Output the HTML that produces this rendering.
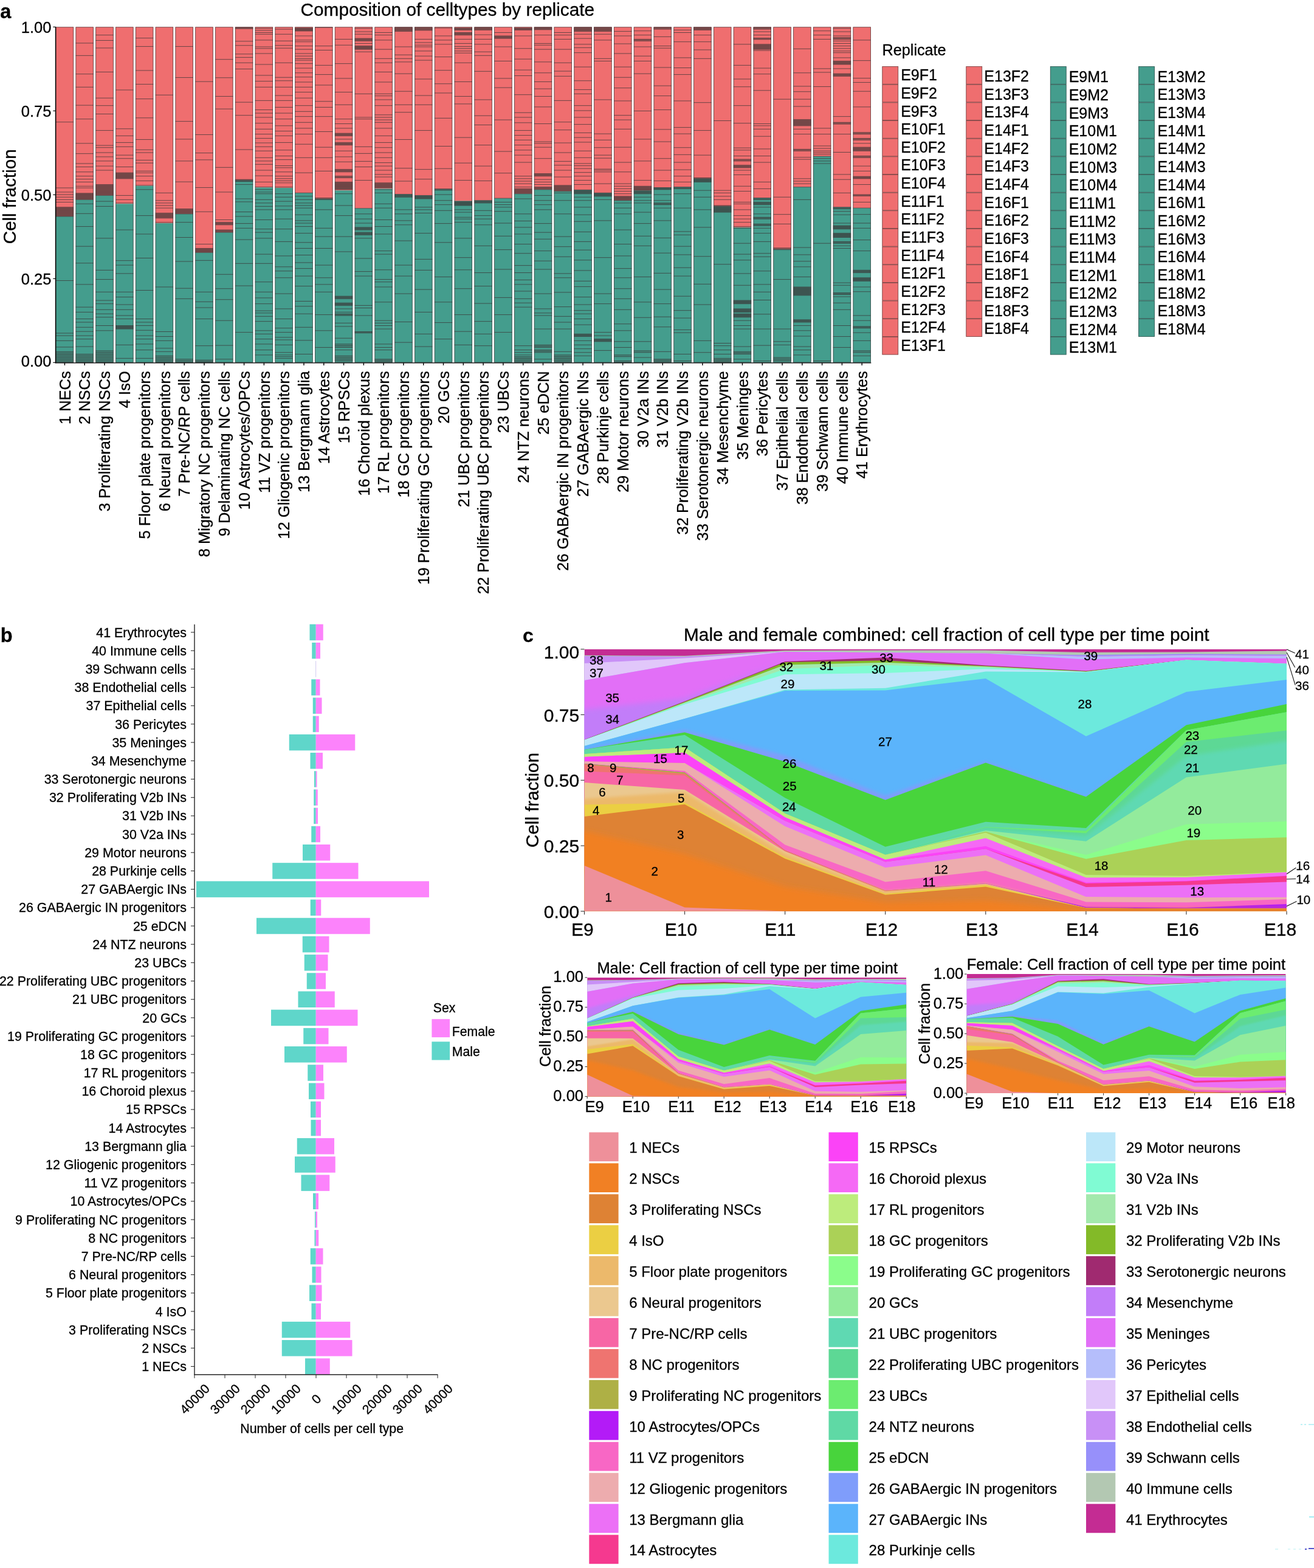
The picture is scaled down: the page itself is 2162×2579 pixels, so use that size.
<!DOCTYPE html>
<html lang="en">
<head>
<meta charset="utf-8">
<title>Cell type composition by replicate, sex and time point</title>
<style>
html,body{margin:0;padding:0;background:#fff;}
body{width:2162px;height:2579px;overflow:hidden;}
svg{display:block;}
svg text{font-family:"Liberation Sans",sans-serif;fill:#000;stroke:#000;stroke-width:0.3px;}
</style>
</head>
<body>
<svg width="2162" height="2579" viewBox="0 0 2162 2579">
<rect width="2162" height="2579" fill="#fff"/>
<g id="panel-a">
<text x="0.30" y="29.80" font-size="32.5" font-weight="bold">a</text>
<text x="736.30" y="26.00" font-size="29.8" text-anchor="middle">Composition of celltypes by replicate</text>
<text x="26.30" y="323.30" font-size="29.5" text-anchor="middle" transform="rotate(-90 26.30 323.30)">Cell fraction</text>
<line x1="87.30" y1="44.40" x2="91.50" y2="44.40" stroke="#111" stroke-width="1.2"/>
<text x="84.40" y="53.90" font-size="25.5" text-anchor="end">1.00</text>
<line x1="87.30" y1="182.38" x2="91.50" y2="182.38" stroke="#111" stroke-width="1.2"/>
<text x="84.40" y="191.88" font-size="25.5" text-anchor="end">0.75</text>
<line x1="87.30" y1="320.35" x2="91.50" y2="320.35" stroke="#111" stroke-width="1.2"/>
<text x="84.40" y="329.85" font-size="25.5" text-anchor="end">0.50</text>
<line x1="87.30" y1="458.32" x2="91.50" y2="458.32" stroke="#111" stroke-width="1.2"/>
<text x="84.40" y="467.82" font-size="25.5" text-anchor="end">0.25</text>
<line x1="87.30" y1="596.30" x2="91.50" y2="596.30" stroke="#111" stroke-width="1.2"/>
<text x="84.40" y="602.90" font-size="25.5" text-anchor="end">0.00</text>
<g transform="translate(91.75 0)">
<rect x="0.00" y="44.40" width="29.35" height="311.58" fill="#EF6E6F"/>
<rect x="0.00" y="355.98" width="29.35" height="240.32" fill="#449D8D"/>
<rect x="0.00" y="340.79" width="29.35" height="15.19" fill="#3a3536" fill-opacity="0.5"/>
<rect x="0.00" y="578.35" width="29.35" height="17.95" fill="#3a3536" fill-opacity="0.2"/>
<path d="M0 200.74H29.35M0 309.02H29.35M0 315.93H29.35M0 320.07H29.35M0 324.22H29.35M0 328.36H29.35M0 332.50H29.35M0 340.79H29.35M0 342.69H29.35M0 344.59H29.35M0 346.49H29.35M0 348.39H29.35M0 350.29H29.35M0 352.19H29.35M0 354.08H29.35M0 355.98H29.35M0 461.50H29.35M0 547.96H29.35M0 552.10H29.35M0 560.39H29.35M0 570.89H29.35M0 578.35H29.35M0 580.91H29.35M0 583.48H29.35M0 586.04H29.35M0 588.61H29.35M0 591.17H29.35M0 593.74H29.35M0 596.30H29.35" stroke="#3a3536" stroke-width="1" stroke-opacity="0.72" fill="none"/>
<rect x="0.35" y="44.75" width="28.65" height="551.20" fill="none" stroke="#3a3536" stroke-width="0.8" stroke-opacity="0.8"/>
</g>
<line x1="106.42" y1="596.80" x2="106.42" y2="600.90" stroke="#111" stroke-width="1.5"/>
<text x="115.62" y="610.20" font-size="25.5" text-anchor="end" transform="rotate(-90 115.62 610.20)">1 NECs</text>
<g transform="translate(124.55 0)">
<rect x="0.00" y="44.40" width="29.35" height="283.96" fill="#EF6E6F"/>
<rect x="0.00" y="328.36" width="29.35" height="267.94" fill="#449D8D"/>
<rect x="0.00" y="317.86" width="29.35" height="10.50" fill="#3a3536" fill-opacity="0.5"/>
<rect x="0.00" y="582.49" width="29.35" height="13.81" fill="#3a3536" fill-opacity="0.2"/>
<path d="M0 70.92H29.35M0 91.36H29.35M0 121.74H29.35M0 143.29H29.35M0 173.12H29.35M0 195.77H29.35M0 235.82H29.35M0 252.67H29.35M0 268.97H29.35M0 274.50H29.35M0 282.78H29.35M0 289.69H29.35M0 294.66H29.35M0 299.36H29.35M0 306.26H29.35M0 309.02H29.35M0 317.86H29.35M0 319.61H29.35M0 321.36H29.35M0 323.11H29.35M0 324.86H29.35M0 326.61H29.35M0 328.36H29.35M0 335.27H29.35M0 351.29H29.35M0 372.56H29.35M0 405.15H29.35M0 432.77H29.35M0 467.85H29.35M0 505.15H29.35M0 513.43H29.35M0 524.48H29.35M0 530.01H29.35M0 538.29H29.35M0 545.20H29.35M0 552.10H29.35M0 557.63H29.35M0 570.06H29.35M0 582.49H29.35M0 585.25H29.35M0 588.01H29.35M0 590.78H29.35M0 593.54H29.35M0 596.30H29.35" stroke="#3a3536" stroke-width="1" stroke-opacity="0.72" fill="none"/>
<rect x="0.35" y="44.75" width="28.65" height="551.20" fill="none" stroke="#3a3536" stroke-width="0.8" stroke-opacity="0.8"/>
</g>
<line x1="139.22" y1="596.80" x2="139.22" y2="600.90" stroke="#111" stroke-width="1.5"/>
<text x="148.42" y="610.20" font-size="25.5" text-anchor="end" transform="rotate(-90 148.42 610.20)">2 NSCs</text>
<g transform="translate(157.34 0)">
<rect x="0.00" y="44.40" width="29.35" height="277.05" fill="#EF6E6F"/>
<rect x="0.00" y="321.45" width="29.35" height="274.85" fill="#449D8D"/>
<rect x="0.00" y="303.50" width="29.35" height="17.95" fill="#3a3536" fill-opacity="0.5"/>
<rect x="0.00" y="576.96" width="29.35" height="19.34" fill="#3a3536" fill-opacity="0.2"/>
<path d="M0 57.66H29.35M0 66.50H29.35M0 78.93H29.35M0 118.43H29.35M0 161.24H29.35M0 173.67H29.35M0 187.49H29.35M0 214.56H29.35M0 239.14H29.35M0 242.73H29.35M0 251.02H29.35M0 257.92H29.35M0 264.83H29.35M0 273.12H29.35M0 280.02H29.35M0 303.50H29.35M0 305.50H29.35M0 307.49H29.35M0 309.49H29.35M0 311.48H29.35M0 313.48H29.35M0 315.47H29.35M0 317.46H29.35M0 319.46H29.35M0 321.45H29.35M0 331.12H29.35M0 339.41H29.35M0 391.89H29.35M0 444.38H29.35M0 459.57H29.35M0 480.28H29.35M0 494.10H29.35M0 499.62H29.35M0 509.29H29.35M0 516.19H29.35M0 521.72H29.35M0 535.53H29.35M0 543.82H29.35M0 576.96H29.35M0 579.73H29.35M0 582.49H29.35M0 585.25H29.35M0 588.01H29.35M0 590.78H29.35M0 593.54H29.35M0 596.30H29.35" stroke="#3a3536" stroke-width="1" stroke-opacity="0.72" fill="none"/>
<rect x="0.35" y="44.75" width="28.65" height="551.20" fill="none" stroke="#3a3536" stroke-width="0.8" stroke-opacity="0.8"/>
</g>
<line x1="172.02" y1="596.80" x2="172.02" y2="600.90" stroke="#111" stroke-width="1.5"/>
<text x="181.22" y="610.20" font-size="25.5" text-anchor="end" transform="rotate(-90 181.22 610.20)">3 Proliferating NSCs</text>
<g transform="translate(190.13 0)">
<rect x="0.00" y="44.40" width="29.35" height="290.87" fill="#EF6E6F"/>
<rect x="0.00" y="335.27" width="29.35" height="261.03" fill="#449D8D"/>
<rect x="0.00" y="284.16" width="29.35" height="9.67" fill="#3a3536" fill-opacity="0.5"/>
<rect x="0.00" y="535.53" width="29.35" height="5.52" fill="#3a3536" fill-opacity="0.5"/>
<path d="M0 147.98H29.35M0 211.79H29.35M0 223.39H29.35M0 234.44H29.35M0 241.35H29.35M0 255.16H29.35M0 260.69H29.35M0 274.50H29.35M0 284.16H29.35M0 286.10H29.35M0 288.03H29.35M0 289.97H29.35M0 291.90H29.35M0 293.83H29.35M0 321.45H29.35M0 328.36H29.35M0 333.89H29.35M0 378.08H29.35M0 428.63H29.35M0 436.09H29.35M0 449.90H29.35M0 480.28H29.35M0 488.57H29.35M0 501.00H29.35M0 509.29H29.35M0 518.96H29.35M0 524.48H29.35M0 535.53H29.35M0 537.37H29.35M0 539.21H29.35M0 541.05H29.35M0 567.30H29.35M0 589.39H29.35" stroke="#3a3536" stroke-width="1" stroke-opacity="0.72" fill="none"/>
<rect x="0.35" y="44.75" width="28.65" height="551.20" fill="none" stroke="#3a3536" stroke-width="0.8" stroke-opacity="0.8"/>
</g>
<line x1="204.81" y1="596.80" x2="204.81" y2="600.90" stroke="#111" stroke-width="1.5"/>
<text x="214.01" y="610.20" font-size="25.5" text-anchor="end" transform="rotate(-90 214.01 610.20)">4 IsO</text>
<g transform="translate(222.93 0)">
<rect x="0.00" y="44.40" width="29.35" height="261.31" fill="#EF6E6F"/>
<rect x="0.00" y="305.71" width="29.35" height="290.59" fill="#449D8D"/>
<path d="M0 62.63H29.35M0 76.44H29.35M0 115.94H29.35M0 138.59H29.35M0 162.62H29.35M0 193.84H29.35M0 229.47H29.35M0 246.32H29.35M0 251.02H29.35M0 263.45H29.35M0 268.14H29.35M0 281.40H29.35M0 284.16H29.35M0 289.69H29.35M0 297.42H29.35M0 304.88H29.35M0 311.79H29.35M0 354.60H29.35M0 384.99H29.35M0 424.49H29.35M0 477.52H29.35M0 524.48H29.35M0 530.01H29.35M0 535.53H29.35M0 543.26H29.35M0 552.10H29.35M0 557.63H29.35M0 565.92H29.35M0 575.58H29.35M0 589.39H29.35" stroke="#3a3536" stroke-width="1" stroke-opacity="0.72" fill="none"/>
<rect x="0.35" y="44.75" width="28.65" height="551.20" fill="none" stroke="#3a3536" stroke-width="0.8" stroke-opacity="0.8"/>
</g>
<line x1="237.61" y1="596.80" x2="237.61" y2="600.90" stroke="#111" stroke-width="1.5"/>
<text x="246.81" y="610.20" font-size="25.5" text-anchor="end" transform="rotate(-90 246.81 610.20)">5 Floor plate progenitors</text>
<g transform="translate(255.73 0)">
<rect x="0.00" y="44.40" width="29.35" height="322.63" fill="#EF6E6F"/>
<rect x="0.00" y="367.03" width="29.35" height="229.27" fill="#449D8D"/>
<rect x="0.00" y="350.46" width="29.35" height="8.29" fill="#3a3536" fill-opacity="0.5"/>
<rect x="0.00" y="585.25" width="29.35" height="11.05" fill="#3a3536" fill-opacity="0.2"/>
<path d="M0 156.27H29.35M0 317.31H29.35M0 329.74H29.35M0 333.89H29.35M0 338.03H29.35M0 342.17H29.35M0 350.46H29.35M0 352.53H29.35M0 354.60H29.35M0 356.67H29.35M0 358.75H29.35M0 365.65H29.35M0 472.00H29.35M0 545.47H29.35M0 553.48H29.35M0 560.39H29.35M0 572.82H29.35M0 578.35H29.35M0 585.25H29.35M0 588.01H29.35M0 590.78H29.35M0 593.54H29.35M0 596.30H29.35" stroke="#3a3536" stroke-width="1" stroke-opacity="0.72" fill="none"/>
<rect x="0.35" y="44.75" width="28.65" height="551.20" fill="none" stroke="#3a3536" stroke-width="0.8" stroke-opacity="0.8"/>
</g>
<line x1="270.40" y1="596.80" x2="270.40" y2="600.90" stroke="#111" stroke-width="1.5"/>
<text x="279.60" y="610.20" font-size="25.5" text-anchor="end" transform="rotate(-90 279.60 610.20)">6 Neural progenitors</text>
<g transform="translate(288.52 0)">
<rect x="0.00" y="44.40" width="29.35" height="307.44" fill="#EF6E6F"/>
<rect x="0.00" y="351.84" width="29.35" height="244.46" fill="#449D8D"/>
<rect x="0.00" y="343.55" width="29.35" height="8.29" fill="#3a3536" fill-opacity="0.5"/>
<rect x="0.00" y="590.78" width="29.35" height="5.52" fill="#3a3536" fill-opacity="0.2"/>
<path d="M0 76.44H29.35M0 127.54H29.35M0 199.64H29.35M0 228.92H29.35M0 264.83H29.35M0 299.08H29.35M0 343.55H29.35M0 345.62H29.35M0 347.70H29.35M0 349.77H29.35M0 351.84H29.35M0 365.65H29.35M0 390.51H29.35M0 430.01H29.35M0 474.21H29.35M0 491.33H29.35M0 590.78H29.35M0 593.54H29.35M0 596.30H29.35" stroke="#3a3536" stroke-width="1" stroke-opacity="0.72" fill="none"/>
<rect x="0.35" y="44.75" width="28.65" height="551.20" fill="none" stroke="#3a3536" stroke-width="0.8" stroke-opacity="0.8"/>
</g>
<line x1="303.19" y1="596.80" x2="303.19" y2="600.90" stroke="#111" stroke-width="1.5"/>
<text x="312.39" y="610.20" font-size="25.5" text-anchor="end" transform="rotate(-90 312.39 610.20)">7 Pre-NC/RP cells</text>
<g transform="translate(321.31 0)">
<rect x="0.00" y="44.40" width="29.35" height="370.97" fill="#EF6E6F"/>
<rect x="0.00" y="415.37" width="29.35" height="180.93" fill="#449D8D"/>
<rect x="0.00" y="408.47" width="29.35" height="6.91" fill="#3a3536" fill-opacity="0.5"/>
<rect x="0.00" y="592.16" width="29.35" height="4.14" fill="#3a3536" fill-opacity="0.2"/>
<path d="M0 134.17H29.35M0 221.46H29.35M0 251.57H29.35M0 262.89H29.35M0 308.47H29.35M0 348.25H29.35M0 401.56H29.35M0 408.47H29.35M0 410.19H29.35M0 411.92H29.35M0 413.65H29.35M0 415.37H29.35M0 428.35H29.35M0 480.28H29.35M0 496.31H29.35M0 505.97H29.35M0 524.48H29.35M0 568.68H29.35M0 592.16H29.35M0 594.23H29.35M0 596.30H29.35" stroke="#3a3536" stroke-width="1" stroke-opacity="0.72" fill="none"/>
<rect x="0.35" y="44.75" width="28.65" height="551.20" fill="none" stroke="#3a3536" stroke-width="0.8" stroke-opacity="0.8"/>
</g>
<line x1="335.99" y1="596.80" x2="335.99" y2="600.90" stroke="#111" stroke-width="1.5"/>
<text x="345.19" y="610.20" font-size="25.5" text-anchor="end" transform="rotate(-90 345.19 610.20)">8 Migratory NC progenitors</text>
<g transform="translate(354.11 0)">
<rect x="0.00" y="44.40" width="29.35" height="337.82" fill="#EF6E6F"/>
<rect x="0.00" y="382.22" width="29.35" height="214.08" fill="#449D8D"/>
<rect x="0.00" y="365.65" width="29.35" height="4.14" fill="#3a3536" fill-opacity="0.5"/>
<rect x="0.00" y="378.08" width="29.35" height="4.14" fill="#3a3536" fill-opacity="0.5"/>
<path d="M0 97.71H29.35M0 127.82H29.35M0 158.48H29.35M0 179.20H29.35M0 275.33H29.35M0 315.93H29.35M0 361.51H29.35M0 365.65H29.35M0 367.72H29.35M0 369.79H29.35M0 378.08H29.35M0 380.15H29.35M0 382.22H29.35M0 451.28H29.35M0 474.76H29.35M0 492.72H29.35M0 527.24H29.35M0 568.12H29.35M0 590.78H29.35" stroke="#3a3536" stroke-width="1" stroke-opacity="0.72" fill="none"/>
<rect x="0.35" y="44.75" width="28.65" height="551.20" fill="none" stroke="#3a3536" stroke-width="0.8" stroke-opacity="0.8"/>
</g>
<line x1="368.79" y1="596.80" x2="368.79" y2="600.90" stroke="#111" stroke-width="1.5"/>
<text x="377.99" y="610.20" font-size="25.5" text-anchor="end" transform="rotate(-90 377.99 610.20)">9 Delaminating NC cells</text>
<g transform="translate(386.91 0)">
<rect x="0.00" y="44.40" width="29.35" height="252.19" fill="#EF6E6F"/>
<rect x="0.00" y="296.59" width="29.35" height="299.71" fill="#449D8D"/>
<rect x="0.00" y="45.23" width="29.35" height="1.93" fill="#3a3536" fill-opacity="0.5"/>
<rect x="0.00" y="295.21" width="29.35" height="3.31" fill="#3a3536" fill-opacity="0.5"/>
<path d="M0 45.23H29.35M0 47.16H29.35M0 67.88H29.35M0 74.78H29.35M0 88.87H29.35M0 94.40H29.35M0 103.24H29.35M0 113.46H29.35M0 168.15H29.35M0 189.69H29.35M0 246.05H29.35M0 295.21H29.35M0 296.87H29.35M0 298.53H29.35M0 303.50H29.35M0 326.98H29.35M0 331.95H29.35M0 348.53H29.35M0 355.98H29.35M0 367.58H29.35M0 375.32H29.35M0 394.10H29.35M0 433.33H29.35M0 470.06H29.35M0 546.58H29.35" stroke="#3a3536" stroke-width="1" stroke-opacity="0.72" fill="none"/>
<rect x="0.35" y="44.75" width="28.65" height="551.20" fill="none" stroke="#3a3536" stroke-width="0.8" stroke-opacity="0.8"/>
</g>
<line x1="401.58" y1="596.80" x2="401.58" y2="600.90" stroke="#111" stroke-width="1.5"/>
<text x="410.78" y="610.20" font-size="25.5" text-anchor="end" transform="rotate(-90 410.78 610.20)">10 Astrocytes/OPCs</text>
<g transform="translate(419.70 0)">
<rect x="0.00" y="44.40" width="29.35" height="264.07" fill="#EF6E6F"/>
<rect x="0.00" y="308.47" width="29.35" height="287.83" fill="#449D8D"/>
<path d="M0 46.61H29.35M0 49.92H29.35M0 53.52H29.35M0 56.28H29.35M0 65.95H29.35M0 76.99H29.35M0 79.76H29.35M0 88.04H29.35M0 106.00H29.35M0 123.95H29.35M0 133.62H29.35M0 143.29H29.35M0 165.39H29.35M0 180.58H29.35M0 186.10H29.35M0 193.01H29.35M0 202.68H29.35M0 212.35H29.35M0 220.63H29.35M0 227.54H29.35M0 235.00H29.35M0 241.35H29.35M0 248.25H29.35M0 259.30H29.35M0 264.83H29.35M0 270.35H29.35M0 280.02H29.35M0 289.14H29.35M0 299.36H29.35M0 307.64H29.35M0 311.79H29.35M0 315.93H29.35M0 318.69H29.35M0 328.36H29.35M0 333.89H29.35M0 339.41H29.35M0 344.93H29.35M0 361.51H29.35M0 376.70H29.35M0 382.22H29.35M0 391.89H29.35M0 418.13H29.35M0 433.33H29.35M0 463.71H29.35M0 480.28H29.35M0 489.95H29.35M0 499.62H29.35M0 511.22H29.35M0 514.81H29.35M0 520.34H29.35M0 528.62H29.35M0 543.82H29.35M0 549.34H29.35M0 557.63H29.35M0 565.92H29.35M0 575.58H29.35M0 583.87H29.35" stroke="#3a3536" stroke-width="1" stroke-opacity="0.72" fill="none"/>
<rect x="0.35" y="44.75" width="28.65" height="551.20" fill="none" stroke="#3a3536" stroke-width="0.8" stroke-opacity="0.8"/>
</g>
<line x1="434.38" y1="596.80" x2="434.38" y2="600.90" stroke="#111" stroke-width="1.5"/>
<text x="443.58" y="610.20" font-size="25.5" text-anchor="end" transform="rotate(-90 443.58 610.20)">11 VZ progenitors</text>
<g transform="translate(452.50 0)">
<rect x="0.00" y="44.40" width="29.35" height="264.62" fill="#EF6E6F"/>
<rect x="0.00" y="309.02" width="29.35" height="287.28" fill="#449D8D"/>
<path d="M0 47.99H29.35M0 56.28H29.35M0 67.33H29.35M0 74.78H29.35M0 79.20H29.35M0 103.24H29.35M0 127.27H29.35M0 132.79H29.35M0 143.29H29.35M0 157.10H29.35M0 165.39H29.35M0 176.44H29.35M0 186.10H29.35M0 195.77H29.35M0 206.82H29.35M0 215.66H29.35M0 223.39H29.35M0 234.44H29.35M0 246.87H29.35M0 256.54H29.35M0 262.62H29.35M0 272.56H29.35M0 275.88H29.35M0 282.78H29.35M0 289.69H29.35M0 293.83H29.35M0 297.42H29.35M0 300.74H29.35M0 307.64H29.35M0 318.69H29.35M0 324.22H29.35M0 331.12H29.35M0 338.86H29.35M0 344.93H29.35M0 360.13H29.35M0 376.70H29.35M0 397.42H29.35M0 420.90H29.35M0 438.85H29.35M0 445.76H29.35M0 456.81H29.35M0 483.05H29.35M0 507.91H29.35M0 524.48H29.35M0 539.67H29.35M0 546.58H29.35M0 554.87H29.35M0 559.01H29.35M0 567.30H29.35M0 579.73H29.35M0 583.87H29.35M0 586.63H29.35M0 589.39H29.35" stroke="#3a3536" stroke-width="1" stroke-opacity="0.72" fill="none"/>
<rect x="0.35" y="44.75" width="28.65" height="551.20" fill="none" stroke="#3a3536" stroke-width="0.8" stroke-opacity="0.8"/>
</g>
<line x1="467.17" y1="596.80" x2="467.17" y2="600.90" stroke="#111" stroke-width="1.5"/>
<text x="476.37" y="610.20" font-size="25.5" text-anchor="end" transform="rotate(-90 476.37 610.20)">12 Gliogenic progenitors</text>
<g transform="translate(485.29 0)">
<rect x="0.00" y="44.40" width="29.35" height="272.91" fill="#EF6E6F"/>
<rect x="0.00" y="317.31" width="29.35" height="278.99" fill="#449D8D"/>
<rect x="0.00" y="46.06" width="29.35" height="4.97" fill="#3a3536" fill-opacity="0.5"/>
<path d="M0 46.06H29.35M0 47.71H29.35M0 49.37H29.35M0 51.03H29.35M0 59.04H29.35M0 65.95H29.35M0 68.71H29.35M0 75.61H29.35M0 81.14H29.35M0 88.04H29.35M0 92.19H29.35M0 96.33H29.35M0 99.09H29.35M0 104.62H29.35M0 112.08H29.35M0 119.81H29.35M0 126.72H29.35M0 135.00H29.35M0 143.29H29.35M0 151.58H29.35M0 161.24H29.35M0 173.67H29.35M0 183.34H29.35M0 191.63H29.35M0 201.30H29.35M0 210.96H29.35M0 220.63H29.35M0 237.21H29.35M0 259.30H29.35M0 284.16H29.35M0 317.31H29.35M0 322.84H29.35M0 328.36H29.35M0 333.89H29.35M0 338.03H29.35M0 342.17H29.35M0 353.22H29.35M0 362.89H29.35M0 367.03H29.35M0 372.56H29.35M0 383.61H29.35M0 398.80H29.35M0 408.47H29.35M0 419.52H29.35M0 431.95H29.35M0 441.61H29.35M0 454.04H29.35M0 470.62H29.35M0 495.48H29.35M0 503.76H29.35M0 516.19H29.35M0 538.29H29.35M0 559.84H29.35M0 582.49H29.35" stroke="#3a3536" stroke-width="1" stroke-opacity="0.72" fill="none"/>
<rect x="0.35" y="44.75" width="28.65" height="551.20" fill="none" stroke="#3a3536" stroke-width="0.8" stroke-opacity="0.8"/>
</g>
<line x1="499.97" y1="596.80" x2="499.97" y2="600.90" stroke="#111" stroke-width="1.5"/>
<text x="509.17" y="610.20" font-size="25.5" text-anchor="end" transform="rotate(-90 509.17 610.20)">13 Bergmann glia</text>
<g transform="translate(518.09 0)">
<rect x="0.00" y="44.40" width="29.35" height="282.58" fill="#EF6E6F"/>
<rect x="0.00" y="326.98" width="29.35" height="269.32" fill="#449D8D"/>
<rect x="0.00" y="325.60" width="29.35" height="2.76" fill="#3a3536" fill-opacity="0.5"/>
<path d="M0 45.23H29.35M0 75.61H29.35M0 82.52H29.35M0 107.38H29.35M0 122.57H29.35M0 139.97H29.35M0 166.77H29.35M0 176.44H29.35M0 191.63H29.35M0 216.49H29.35M0 242.18H29.35M0 259.30H29.35M0 281.40H29.35M0 325.60H29.35M0 328.36H29.35M0 344.93H29.35M0 375.32H29.35M0 389.13H29.35M0 408.47H29.35M0 436.09H29.35M0 456.81H29.35M0 467.85H29.35M0 480.28H29.35M0 517.58H29.35M0 543.82H29.35M0 571.44H29.35" stroke="#3a3536" stroke-width="1" stroke-opacity="0.72" fill="none"/>
<rect x="0.35" y="44.75" width="28.65" height="551.20" fill="none" stroke="#3a3536" stroke-width="0.8" stroke-opacity="0.8"/>
</g>
<line x1="532.76" y1="596.80" x2="532.76" y2="600.90" stroke="#111" stroke-width="1.5"/>
<text x="541.96" y="610.20" font-size="25.5" text-anchor="end" transform="rotate(-90 541.96 610.20)">14 Astrocytes</text>
<g transform="translate(550.88 0)">
<rect x="0.00" y="44.40" width="29.35" height="268.77" fill="#EF6E6F"/>
<rect x="0.00" y="313.17" width="29.35" height="283.13" fill="#449D8D"/>
<rect x="0.00" y="219.25" width="29.35" height="4.14" fill="#3a3536" fill-opacity="0.5"/>
<rect x="0.00" y="234.44" width="29.35" height="4.14" fill="#3a3536" fill-opacity="0.5"/>
<rect x="0.00" y="278.64" width="29.35" height="4.14" fill="#3a3536" fill-opacity="0.5"/>
<rect x="0.00" y="289.69" width="29.35" height="2.76" fill="#3a3536" fill-opacity="0.5"/>
<rect x="0.00" y="299.36" width="29.35" height="12.43" fill="#3a3536" fill-opacity="0.5"/>
<rect x="0.00" y="487.19" width="29.35" height="4.14" fill="#3a3536" fill-opacity="0.5"/>
<rect x="0.00" y="498.24" width="29.35" height="4.14" fill="#3a3536" fill-opacity="0.5"/>
<rect x="0.00" y="516.19" width="29.35" height="2.76" fill="#3a3536" fill-opacity="0.5"/>
<rect x="0.00" y="565.92" width="29.35" height="5.52" fill="#3a3536" fill-opacity="0.2"/>
<rect x="0.00" y="585.25" width="29.35" height="8.29" fill="#3a3536" fill-opacity="0.2"/>
<path d="M0 64.56H29.35M0 74.23H29.35M0 104.62H29.35M0 128.93H29.35M0 151.58H29.35M0 172.29H29.35M0 195.77H29.35M0 203.51H29.35M0 210.96H29.35M0 219.25H29.35M0 221.32H29.35M0 223.39H29.35M0 228.92H29.35M0 234.44H29.35M0 236.52H29.35M0 238.59H29.35M0 248.25H29.35M0 257.92H29.35M0 266.21H29.35M0 278.64H29.35M0 280.71H29.35M0 282.78H29.35M0 289.69H29.35M0 292.45H29.35M0 299.36H29.35M0 301.13H29.35M0 302.91H29.35M0 304.68H29.35M0 306.46H29.35M0 308.24H29.35M0 310.01H29.35M0 311.79H29.35M0 318.69H29.35M0 338.03H29.35M0 354.60H29.35M0 389.13H29.35M0 413.99H29.35M0 487.19H29.35M0 489.26H29.35M0 491.33H29.35M0 498.24H29.35M0 500.31H29.35M0 502.38H29.35M0 507.91H29.35M0 513.43H29.35M0 516.19H29.35M0 518.96H29.35M0 531.39H29.35M0 536.91H29.35M0 556.25H29.35M0 565.92H29.35M0 568.68H29.35M0 571.44H29.35M0 575.58H29.35M0 585.25H29.35M0 588.01H29.35M0 590.78H29.35M0 593.54H29.35" stroke="#3a3536" stroke-width="1" stroke-opacity="0.72" fill="none"/>
<rect x="0.35" y="44.75" width="28.65" height="551.20" fill="none" stroke="#3a3536" stroke-width="0.8" stroke-opacity="0.8"/>
</g>
<line x1="565.55" y1="596.80" x2="565.55" y2="600.90" stroke="#111" stroke-width="1.5"/>
<text x="574.75" y="610.20" font-size="25.5" text-anchor="end" transform="rotate(-90 574.75 610.20)">15 RPSCs</text>
<g transform="translate(583.67 0)">
<rect x="0.00" y="44.40" width="29.35" height="298.32" fill="#EF6E6F"/>
<rect x="0.00" y="342.72" width="29.35" height="253.58" fill="#449D8D"/>
<rect x="0.00" y="63.18" width="29.35" height="4.14" fill="#3a3536" fill-opacity="0.5"/>
<rect x="0.00" y="75.61" width="29.35" height="5.52" fill="#3a3536" fill-opacity="0.5"/>
<rect x="0.00" y="373.94" width="29.35" height="4.14" fill="#3a3536" fill-opacity="0.5"/>
<rect x="0.00" y="382.22" width="29.35" height="4.14" fill="#3a3536" fill-opacity="0.5"/>
<rect x="0.00" y="545.47" width="29.35" height="2.21" fill="#3a3536" fill-opacity="0.5"/>
<path d="M0 46.61H29.35M0 52.13H29.35M0 56.28H29.35M0 63.18H29.35M0 65.26H29.35M0 67.33H29.35M0 71.47H29.35M0 75.61H29.35M0 77.46H29.35M0 79.30H29.35M0 81.14H29.35M0 85.28H29.35M0 154.34H29.35M0 193.01H29.35M0 195.77H29.35M0 241.35H29.35M0 252.40H29.35M0 265.38H29.35M0 274.50H29.35M0 296.59H29.35M0 342.72H29.35M0 351.84H29.35M0 360.13H29.35M0 367.03H29.35M0 373.94H29.35M0 376.01H29.35M0 378.08H29.35M0 382.22H29.35M0 384.30H29.35M0 386.37H29.35M0 391.89H29.35M0 425.04H29.35M0 446.59H29.35M0 454.04H29.35M0 502.38H29.35M0 506.53H29.35M0 518.96H29.35M0 545.47H29.35M0 547.68H29.35" stroke="#3a3536" stroke-width="1" stroke-opacity="0.72" fill="none"/>
<rect x="0.35" y="44.75" width="28.65" height="551.20" fill="none" stroke="#3a3536" stroke-width="0.8" stroke-opacity="0.8"/>
</g>
<line x1="598.35" y1="596.80" x2="598.35" y2="600.90" stroke="#111" stroke-width="1.5"/>
<text x="607.55" y="610.20" font-size="25.5" text-anchor="end" transform="rotate(-90 607.55 610.20)">16 Choroid plexus</text>
<g transform="translate(616.47 0)">
<rect x="0.00" y="44.40" width="29.35" height="266.01" fill="#EF6E6F"/>
<rect x="0.00" y="310.41" width="29.35" height="285.89" fill="#449D8D"/>
<rect x="0.00" y="300.74" width="29.35" height="8.29" fill="#3a3536" fill-opacity="0.5"/>
<rect x="0.00" y="590.78" width="29.35" height="4.14" fill="#3a3536" fill-opacity="0.2"/>
<path d="M0 53.52H29.35M0 57.66H29.35M0 65.95H29.35M0 81.14H29.35M0 96.33H29.35M0 103.24H29.35M0 118.43H29.35M0 135.00H29.35M0 154.34H29.35M0 157.65H29.35M0 164.01H29.35M0 173.67H29.35M0 188.87H29.35M0 193.01H29.35M0 197.15H29.35M0 201.30H29.35M0 210.96H29.35M0 223.39H29.35M0 234.44H29.35M0 242.73H29.35M0 251.02H29.35M0 259.30H29.35M0 267.59H29.35M0 273.12H29.35M0 280.02H29.35M0 286.93H29.35M0 291.07H29.35M0 300.74H29.35M0 302.81H29.35M0 304.88H29.35M0 306.95H29.35M0 309.02H29.35M0 311.79H29.35M0 317.31H29.35M0 335.27H29.35M0 342.17H29.35M0 361.51H29.35M0 372.56H29.35M0 384.99H29.35M0 412.61H29.35M0 418.13H29.35M0 443.82H29.35M0 459.57H29.35M0 463.71H29.35M0 472.00H29.35M0 496.86H29.35M0 527.24H29.35M0 531.39H29.35M0 535.53H29.35M0 541.05H29.35M0 565.92H29.35M0 571.44H29.35M0 575.58H29.35M0 590.78H29.35M0 592.85H29.35M0 594.92H29.35" stroke="#3a3536" stroke-width="1" stroke-opacity="0.72" fill="none"/>
<rect x="0.35" y="44.75" width="28.65" height="551.20" fill="none" stroke="#3a3536" stroke-width="0.8" stroke-opacity="0.8"/>
</g>
<line x1="631.14" y1="596.80" x2="631.14" y2="600.90" stroke="#111" stroke-width="1.5"/>
<text x="640.35" y="610.20" font-size="25.5" text-anchor="end" transform="rotate(-90 640.35 610.20)">17 RL progenitors</text>
<g transform="translate(649.26 0)">
<rect x="0.00" y="44.40" width="29.35" height="275.12" fill="#EF6E6F"/>
<rect x="0.00" y="319.52" width="29.35" height="276.78" fill="#449D8D"/>
<rect x="0.00" y="45.23" width="29.35" height="6.35" fill="#3a3536" fill-opacity="0.5"/>
<rect x="0.00" y="319.52" width="29.35" height="4.70" fill="#3a3536" fill-opacity="0.5"/>
<path d="M0 45.23H29.35M0 47.35H29.35M0 49.46H29.35M0 51.58H29.35M0 76.99H29.35M0 90.25H29.35M0 96.33H29.35M0 101.86H29.35M0 121.19H29.35M0 150.19H29.35M0 172.29H29.35M0 184.72H29.35M0 229.47H29.35M0 276.71H29.35M0 297.98H29.35M0 319.52H29.35M0 321.87H29.35M0 324.22H29.35M0 344.93H29.35M0 351.84H29.35M0 362.89H29.35M0 369.79H29.35M0 396.04H29.35M0 436.09H29.35M0 454.04H29.35M0 483.05H29.35M0 529.45H29.35M0 563.15H29.35" stroke="#3a3536" stroke-width="1" stroke-opacity="0.72" fill="none"/>
<rect x="0.35" y="44.75" width="28.65" height="551.20" fill="none" stroke="#3a3536" stroke-width="0.8" stroke-opacity="0.8"/>
</g>
<line x1="663.94" y1="596.80" x2="663.94" y2="600.90" stroke="#111" stroke-width="1.5"/>
<text x="673.14" y="610.20" font-size="25.5" text-anchor="end" transform="rotate(-90 673.14 610.20)">18 GC progenitors</text>
<g transform="translate(682.06 0)">
<rect x="0.00" y="44.40" width="29.35" height="277.05" fill="#EF6E6F"/>
<rect x="0.00" y="321.45" width="29.35" height="274.85" fill="#449D8D"/>
<rect x="0.00" y="45.23" width="29.35" height="4.70" fill="#3a3536" fill-opacity="0.5"/>
<rect x="0.00" y="321.45" width="29.35" height="5.52" fill="#3a3536" fill-opacity="0.5"/>
<path d="M0 45.23H29.35M0 47.58H29.35M0 49.92H29.35M0 64.56H29.35M0 70.09H29.35M0 74.23H29.35M0 76.99H29.35M0 83.90H29.35M0 92.19H29.35M0 99.09H29.35M0 130.03H29.35M0 157.10H29.35M0 172.29H29.35M0 214.56H29.35M0 278.64H29.35M0 294.66H29.35M0 321.45H29.35M0 323.30H29.35M0 325.14H29.35M0 326.98H29.35M0 340.79H29.35M0 344.93H29.35M0 350.46H29.35M0 383.61H29.35M0 426.42H29.35M0 444.38H29.35M0 476.14H29.35M0 513.43H29.35M0 549.34H29.35M0 570.06H29.35" stroke="#3a3536" stroke-width="1" stroke-opacity="0.72" fill="none"/>
<rect x="0.35" y="44.75" width="28.65" height="551.20" fill="none" stroke="#3a3536" stroke-width="0.8" stroke-opacity="0.8"/>
</g>
<line x1="696.74" y1="596.80" x2="696.74" y2="600.90" stroke="#111" stroke-width="1.5"/>
<text x="705.94" y="610.20" font-size="25.5" text-anchor="end" transform="rotate(-90 705.94 610.20)">19 Proliferating GC progenitors</text>
<g transform="translate(714.86 0)">
<rect x="0.00" y="44.40" width="29.35" height="266.83" fill="#EF6E6F"/>
<rect x="0.00" y="311.23" width="29.35" height="285.07" fill="#449D8D"/>
<rect x="0.00" y="310.68" width="29.35" height="2.21" fill="#3a3536" fill-opacity="0.5"/>
<path d="M0 46.06H29.35M0 59.04H29.35M0 65.95H29.35M0 72.85H29.35M0 93.57H29.35M0 115.67H29.35M0 137.76H29.35M0 152.96H29.35M0 194.39H29.35M0 240.52H29.35M0 277.26H29.35M0 310.68H29.35M0 312.89H29.35M0 320.07H29.35M0 329.74H29.35M0 336.65H29.35M0 346.32H29.35M0 367.58H29.35M0 398.80H29.35M0 455.42H29.35M0 496.86H29.35M0 530.56H29.35M0 557.63H29.35" stroke="#3a3536" stroke-width="1" stroke-opacity="0.72" fill="none"/>
<rect x="0.35" y="44.75" width="28.65" height="551.20" fill="none" stroke="#3a3536" stroke-width="0.8" stroke-opacity="0.8"/>
</g>
<line x1="729.53" y1="596.80" x2="729.53" y2="600.90" stroke="#111" stroke-width="1.5"/>
<text x="738.73" y="610.20" font-size="25.5" text-anchor="end" transform="rotate(-90 738.73 610.20)">20 GCs</text>
<g transform="translate(747.65 0)">
<rect x="0.00" y="44.40" width="29.35" height="286.17" fill="#EF6E6F"/>
<rect x="0.00" y="330.57" width="29.35" height="265.73" fill="#449D8D"/>
<rect x="0.00" y="46.06" width="29.35" height="3.31" fill="#3a3536" fill-opacity="0.5"/>
<rect x="0.00" y="53.52" width="29.35" height="4.14" fill="#3a3536" fill-opacity="0.5"/>
<rect x="0.00" y="331.12" width="29.35" height="6.91" fill="#3a3536" fill-opacity="0.5"/>
<path d="M0 46.06H29.35M0 47.71H29.35M0 49.37H29.35M0 53.52H29.35M0 55.59H29.35M0 57.66H29.35M0 64.56H29.35M0 71.47H29.35M0 76.44H29.35M0 79.76H29.35M0 83.90H29.35M0 87.22H29.35M0 103.24H29.35M0 134.45H29.35M0 158.48H29.35M0 170.91H29.35M0 226.16H29.35M0 268.14H29.35M0 296.59H29.35M0 331.12H29.35M0 332.85H29.35M0 334.58H29.35M0 336.30H29.35M0 338.03H29.35M0 344.93H29.35M0 349.08H29.35M0 357.36H29.35M0 360.13H29.35M0 365.65H29.35M0 391.89H29.35M0 423.66H29.35M0 443.82H29.35M0 474.76H29.35M0 517.58H29.35M0 545.20H29.35M0 567.30H29.35" stroke="#3a3536" stroke-width="1" stroke-opacity="0.72" fill="none"/>
<rect x="0.35" y="44.75" width="28.65" height="551.20" fill="none" stroke="#3a3536" stroke-width="0.8" stroke-opacity="0.8"/>
</g>
<line x1="762.33" y1="596.80" x2="762.33" y2="600.90" stroke="#111" stroke-width="1.5"/>
<text x="771.53" y="610.20" font-size="25.5" text-anchor="end" transform="rotate(-90 771.53 610.20)">21 UBC progenitors</text>
<g transform="translate(780.45 0)">
<rect x="0.00" y="44.40" width="29.35" height="285.34" fill="#EF6E6F"/>
<rect x="0.00" y="329.74" width="29.35" height="266.56" fill="#449D8D"/>
<rect x="0.00" y="45.23" width="29.35" height="4.14" fill="#3a3536" fill-opacity="0.5"/>
<rect x="0.00" y="329.74" width="29.35" height="4.14" fill="#3a3536" fill-opacity="0.5"/>
<path d="M0 45.23H29.35M0 47.30H29.35M0 49.37H29.35M0 57.11H29.35M0 64.56H29.35M0 72.85H29.35M0 85.28H29.35M0 91.36H29.35M0 117.32H29.35M0 164.01H29.35M0 190.25H29.35M0 205.44H29.35M0 238.59H29.35M0 273.12H29.35M0 297.42H29.35M0 329.74H29.35M0 331.81H29.35M0 333.89H29.35M0 346.32H29.35M0 354.60H29.35M0 360.13H29.35M0 369.79H29.35M0 404.32H29.35M0 448.52H29.35M0 470.62H29.35M0 499.07H29.35M0 528.62H29.35M0 549.34H29.35M0 568.68H29.35" stroke="#3a3536" stroke-width="1" stroke-opacity="0.72" fill="none"/>
<rect x="0.35" y="44.75" width="28.65" height="551.20" fill="none" stroke="#3a3536" stroke-width="0.8" stroke-opacity="0.8"/>
</g>
<line x1="795.12" y1="596.80" x2="795.12" y2="600.90" stroke="#111" stroke-width="1.5"/>
<text x="804.32" y="610.20" font-size="25.5" text-anchor="end" transform="rotate(-90 804.32 610.20)">22 Proliferating UBC progenitors</text>
<g transform="translate(813.24 0)">
<rect x="0.00" y="44.40" width="29.35" height="281.75" fill="#EF6E6F"/>
<rect x="0.00" y="326.15" width="29.35" height="270.15" fill="#449D8D"/>
<rect x="0.00" y="59.04" width="29.35" height="4.14" fill="#3a3536" fill-opacity="0.5"/>
<path d="M0 53.52H29.35M0 59.04H29.35M0 61.11H29.35M0 63.18H29.35M0 76.99H29.35M0 100.47H29.35M0 128.93H29.35M0 144.12H29.35M0 197.15H29.35M0 249.08H29.35M0 284.72H29.35M0 326.15H29.35M0 332.50H29.35M0 336.65H29.35M0 340.79H29.35M0 347.70H29.35M0 367.03H29.35M0 388.30H29.35M0 410.68H29.35M0 442.99H29.35M0 489.40H29.35M0 517.58H29.35M0 546.58H29.35" stroke="#3a3536" stroke-width="1" stroke-opacity="0.72" fill="none"/>
<rect x="0.35" y="44.75" width="28.65" height="551.20" fill="none" stroke="#3a3536" stroke-width="0.8" stroke-opacity="0.8"/>
</g>
<line x1="827.91" y1="596.80" x2="827.91" y2="600.90" stroke="#111" stroke-width="1.5"/>
<text x="837.12" y="610.20" font-size="25.5" text-anchor="end" transform="rotate(-90 837.12 610.20)">23 UBCs</text>
<g transform="translate(846.04 0)">
<rect x="0.00" y="44.40" width="29.35" height="274.29" fill="#EF6E6F"/>
<rect x="0.00" y="318.69" width="29.35" height="277.61" fill="#449D8D"/>
<rect x="0.00" y="46.06" width="29.35" height="3.31" fill="#3a3536" fill-opacity="0.5"/>
<rect x="0.00" y="310.41" width="29.35" height="8.29" fill="#3a3536" fill-opacity="0.5"/>
<rect x="0.00" y="586.63" width="29.35" height="8.29" fill="#3a3536" fill-opacity="0.2"/>
<path d="M0 46.06H29.35M0 47.71H29.35M0 49.37H29.35M0 59.04H29.35M0 79.76H29.35M0 97.16H29.35M0 115.11H29.35M0 124.51H29.35M0 155.72H29.35M0 185.28H29.35M0 193.01H29.35M0 201.85H29.35M0 214.56H29.35M0 222.57H29.35M0 230.30H29.35M0 238.59H29.35M0 246.87H29.35M0 255.16H29.35M0 267.04H29.35M0 289.69H29.35M0 293.83H29.35M0 297.98H29.35M0 302.12H29.35M0 307.64H29.35M0 310.41H29.35M0 312.48H29.35M0 314.55H29.35M0 316.62H29.35M0 318.69H29.35M0 326.98H29.35M0 351.84H29.35M0 363.44H29.35M0 373.94H29.35M0 384.99H29.35M0 401.56H29.35M0 416.75H29.35M0 436.64H29.35M0 448.52H29.35M0 460.40H29.35M0 467.85H29.35M0 478.90H29.35M0 491.33H29.35M0 498.24H29.35M0 505.15H29.35M0 568.68H29.35M0 575.58H29.35M0 579.73H29.35M0 583.87H29.35M0 586.63H29.35M0 589.39H29.35M0 592.16H29.35M0 594.92H29.35" stroke="#3a3536" stroke-width="1" stroke-opacity="0.72" fill="none"/>
<rect x="0.35" y="44.75" width="28.65" height="551.20" fill="none" stroke="#3a3536" stroke-width="0.8" stroke-opacity="0.8"/>
</g>
<line x1="860.71" y1="596.80" x2="860.71" y2="600.90" stroke="#111" stroke-width="1.5"/>
<text x="869.91" y="610.20" font-size="25.5" text-anchor="end" transform="rotate(-90 869.91 610.20)">24 NTZ neurons</text>
<g transform="translate(878.83 0)">
<rect x="0.00" y="44.40" width="29.35" height="267.39" fill="#EF6E6F"/>
<rect x="0.00" y="311.79" width="29.35" height="284.51" fill="#449D8D"/>
<rect x="0.00" y="45.23" width="29.35" height="3.59" fill="#3a3536" fill-opacity="0.5"/>
<rect x="0.00" y="285.55" width="29.35" height="4.14" fill="#3a3536" fill-opacity="0.5"/>
<rect x="0.00" y="307.64" width="29.35" height="4.14" fill="#3a3536" fill-opacity="0.5"/>
<rect x="0.00" y="567.30" width="29.35" height="4.14" fill="#3a3536" fill-opacity="0.2"/>
<rect x="0.00" y="575.58" width="29.35" height="4.14" fill="#3a3536" fill-opacity="0.2"/>
<path d="M0 45.23H29.35M0 47.02H29.35M0 48.82H29.35M0 57.66H29.35M0 71.47H29.35M0 74.23H29.35M0 81.14H29.35M0 101.86H29.35M0 119.81H29.35M0 134.45H29.35M0 146.05H29.35M0 158.48H29.35M0 175.88H29.35M0 203.51H29.35M0 233.06H29.35M0 235.82H29.35M0 242.18H29.35M0 260.69H29.35M0 285.55H29.35M0 287.62H29.35M0 289.69H29.35M0 295.21H29.35M0 299.36H29.35M0 303.50H29.35M0 307.64H29.35M0 309.72H29.35M0 311.79H29.35M0 321.45H29.35M0 329.74H29.35M0 336.65H29.35M0 344.93H29.35M0 367.58H29.35M0 382.22H29.35M0 393.27H29.35M0 412.61H29.35M0 429.18H29.35M0 442.99H29.35M0 483.05H29.35M0 507.91H29.35M0 514.81H29.35M0 518.96H29.35M0 541.05H29.35M0 567.30H29.35M0 569.37H29.35M0 571.44H29.35M0 575.58H29.35M0 577.65H29.35M0 579.73H29.35M0 590.78H29.35" stroke="#3a3536" stroke-width="1" stroke-opacity="0.72" fill="none"/>
<rect x="0.35" y="44.75" width="28.65" height="551.20" fill="none" stroke="#3a3536" stroke-width="0.8" stroke-opacity="0.8"/>
</g>
<line x1="893.50" y1="596.80" x2="893.50" y2="600.90" stroke="#111" stroke-width="1.5"/>
<text x="902.71" y="610.20" font-size="25.5" text-anchor="end" transform="rotate(-90 902.71 610.20)">25 eDCN</text>
<g transform="translate(911.62 0)">
<rect x="0.00" y="44.40" width="29.35" height="270.15" fill="#EF6E6F"/>
<rect x="0.00" y="314.55" width="29.35" height="281.75" fill="#449D8D"/>
<rect x="0.00" y="304.88" width="29.35" height="9.67" fill="#3a3536" fill-opacity="0.5"/>
<rect x="0.00" y="583.87" width="29.35" height="11.05" fill="#3a3536" fill-opacity="0.2"/>
<path d="M0 53.52H29.35M0 57.66H29.35M0 64.56H29.35M0 81.14H29.35M0 103.24H29.35M0 117.05H29.35M0 125.33H29.35M0 165.39H29.35M0 200.74H29.35M0 213.73H29.35M0 235.00H29.35M0 251.02H29.35M0 265.38H29.35M0 271.73H29.35M0 280.02H29.35M0 291.07H29.35M0 304.88H29.35M0 306.81H29.35M0 308.75H29.35M0 310.68H29.35M0 312.62H29.35M0 314.55H29.35M0 317.31H29.35M0 329.74H29.35M0 351.84H29.35M0 389.13H29.35M0 405.70H29.35M0 422.28H29.35M0 449.90H29.35M0 456.81H29.35M0 480.84H29.35M0 504.59H29.35M0 520.34H29.35M0 530.01H29.35M0 541.05H29.35M0 578.35H29.35M0 583.87H29.35M0 586.63H29.35M0 589.39H29.35M0 592.16H29.35M0 594.92H29.35" stroke="#3a3536" stroke-width="1" stroke-opacity="0.72" fill="none"/>
<rect x="0.35" y="44.75" width="28.65" height="551.20" fill="none" stroke="#3a3536" stroke-width="0.8" stroke-opacity="0.8"/>
</g>
<line x1="926.30" y1="596.80" x2="926.30" y2="600.90" stroke="#111" stroke-width="1.5"/>
<text x="935.50" y="610.20" font-size="25.5" text-anchor="end" transform="rotate(-90 935.50 610.20)">26 GABAergic IN progenitors</text>
<g transform="translate(944.42 0)">
<rect x="0.00" y="44.40" width="29.35" height="267.94" fill="#EF6E6F"/>
<rect x="0.00" y="312.34" width="29.35" height="283.96" fill="#449D8D"/>
<rect x="0.00" y="45.23" width="29.35" height="6.35" fill="#3a3536" fill-opacity="0.5"/>
<rect x="0.00" y="312.34" width="29.35" height="6.35" fill="#3a3536" fill-opacity="0.5"/>
<rect x="0.00" y="549.34" width="29.35" height="4.14" fill="#3a3536" fill-opacity="0.5"/>
<path d="M0 45.23H29.35M0 47.35H29.35M0 49.46H29.35M0 51.58H29.35M0 56.28H29.35M0 63.18H29.35M0 72.85H29.35M0 78.38H29.35M0 86.66H29.35M0 110.14H29.35M0 132.79H29.35M0 147.43H29.35M0 154.34H29.35M0 173.67H29.35M0 181.96H29.35M0 193.01H29.35M0 204.61H29.35M0 218.42H29.35M0 226.16H29.35M0 233.89H29.35M0 248.25H29.35M0 259.30H29.35M0 268.97H29.35M0 272.56H29.35M0 277.26H29.35M0 283.61H29.35M0 289.69H29.35M0 296.59H29.35M0 303.50H29.35M0 312.34H29.35M0 314.46H29.35M0 316.57H29.35M0 318.69H29.35M0 324.22H29.35M0 329.74H29.35M0 340.79H29.35M0 353.22H29.35M0 364.27H29.35M0 381.40H29.35M0 397.42H29.35M0 411.23H29.35M0 427.80H29.35M0 444.93H29.35M0 462.33H29.35M0 471.45H29.35M0 488.57H29.35M0 501.00H29.35M0 510.67H29.35M0 516.19H29.35M0 524.48H29.35M0 534.15H29.35M0 549.34H29.35M0 551.41H29.35M0 553.48H29.35M0 560.39H29.35M0 567.30H29.35M0 573.65H29.35M0 579.73H29.35M0 585.25H29.35" stroke="#3a3536" stroke-width="1" stroke-opacity="0.72" fill="none"/>
<rect x="0.35" y="44.75" width="28.65" height="551.20" fill="none" stroke="#3a3536" stroke-width="0.8" stroke-opacity="0.8"/>
</g>
<line x1="959.10" y1="596.80" x2="959.10" y2="600.90" stroke="#111" stroke-width="1.5"/>
<text x="968.30" y="610.20" font-size="25.5" text-anchor="end" transform="rotate(-90 968.30 610.20)">27 GABAergic INs</text>
<g transform="translate(977.22 0)">
<rect x="0.00" y="44.40" width="29.35" height="272.91" fill="#EF6E6F"/>
<rect x="0.00" y="317.31" width="29.35" height="278.99" fill="#449D8D"/>
<rect x="0.00" y="45.23" width="29.35" height="6.35" fill="#3a3536" fill-opacity="0.5"/>
<rect x="0.00" y="317.31" width="29.35" height="5.52" fill="#3a3536" fill-opacity="0.5"/>
<rect x="0.00" y="557.63" width="29.35" height="4.14" fill="#3a3536" fill-opacity="0.5"/>
<path d="M0 45.23H29.35M0 47.35H29.35M0 49.46H29.35M0 51.58H29.35M0 56.28H29.35M0 65.95H29.35M0 96.33H29.35M0 100.47H29.35M0 164.01H29.35M0 220.08H29.35M0 230.30H29.35M0 242.73H29.35M0 255.16H29.35M0 260.13H29.35M0 278.09H29.35M0 280.02H29.35M0 282.78H29.35M0 302.12H29.35M0 317.31H29.35M0 319.15H29.35M0 320.99H29.35M0 322.84H29.35M0 328.36H29.35M0 362.89H29.35M0 423.66H29.35M0 483.05H29.35M0 499.62H29.35M0 546.58H29.35M0 552.10H29.35M0 557.63H29.35M0 559.70H29.35M0 561.77H29.35M0 576.41H29.35" stroke="#3a3536" stroke-width="1" stroke-opacity="0.72" fill="none"/>
<rect x="0.35" y="44.75" width="28.65" height="551.20" fill="none" stroke="#3a3536" stroke-width="0.8" stroke-opacity="0.8"/>
</g>
<line x1="991.89" y1="596.80" x2="991.89" y2="600.90" stroke="#111" stroke-width="1.5"/>
<text x="1001.09" y="610.20" font-size="25.5" text-anchor="end" transform="rotate(-90 1001.09 610.20)">28 Purkinje cells</text>
<g transform="translate(1010.01 0)">
<rect x="0.00" y="44.40" width="29.35" height="285.34" fill="#EF6E6F"/>
<rect x="0.00" y="329.74" width="29.35" height="266.56" fill="#449D8D"/>
<rect x="0.00" y="322.84" width="29.35" height="6.91" fill="#3a3536" fill-opacity="0.5"/>
<rect x="0.00" y="583.87" width="29.35" height="2.76" fill="#3a3536" fill-opacity="0.2"/>
<rect x="0.00" y="593.54" width="29.35" height="2.76" fill="#3a3536" fill-opacity="0.2"/>
<path d="M0 51.58H29.35M0 59.04H29.35M0 72.02H29.35M0 88.04H29.35M0 110.14H29.35M0 127.27H29.35M0 144.67H29.35M0 165.94H29.35M0 189.69H29.35M0 197.15H29.35M0 212.35H29.35M0 242.18H29.35M0 267.04H29.35M0 282.78H29.35M0 302.12H29.35M0 306.26H29.35M0 310.41H29.35M0 314.55H29.35M0 318.69H29.35M0 322.84H29.35M0 324.56H29.35M0 326.29H29.35M0 328.02H29.35M0 329.74H29.35M0 333.89H29.35M0 342.17H29.35M0 351.84H29.35M0 378.08H29.35M0 401.56H29.35M0 420.90H29.35M0 441.61H29.35M0 456.81H29.35M0 474.76H29.35M0 491.33H29.35M0 509.29H29.35M0 532.77H29.35M0 543.82H29.35M0 561.77H29.35M0 571.44H29.35M0 583.87H29.35M0 586.63H29.35M0 593.54H29.35M0 596.30H29.35" stroke="#3a3536" stroke-width="1" stroke-opacity="0.72" fill="none"/>
<rect x="0.35" y="44.75" width="28.65" height="551.20" fill="none" stroke="#3a3536" stroke-width="0.8" stroke-opacity="0.8"/>
</g>
<line x1="1024.68" y1="596.80" x2="1024.68" y2="600.90" stroke="#111" stroke-width="1.5"/>
<text x="1033.88" y="610.20" font-size="25.5" text-anchor="end" transform="rotate(-90 1033.88 610.20)">29 Motor neurons</text>
<g transform="translate(1042.81 0)">
<rect x="0.00" y="44.40" width="29.35" height="268.77" fill="#EF6E6F"/>
<rect x="0.00" y="313.17" width="29.35" height="283.13" fill="#449D8D"/>
<rect x="0.00" y="64.56" width="29.35" height="2.76" fill="#3a3536" fill-opacity="0.5"/>
<rect x="0.00" y="306.26" width="29.35" height="6.91" fill="#3a3536" fill-opacity="0.5"/>
<rect x="0.00" y="314.55" width="29.35" height="4.14" fill="#3a3536" fill-opacity="0.5"/>
<rect x="0.00" y="576.96" width="29.35" height="2.76" fill="#3a3536" fill-opacity="0.2"/>
<path d="M0 50.75H29.35M0 57.66H29.35M0 64.56H29.35M0 67.33H29.35M0 76.99H29.35M0 92.19H29.35M0 100.47H29.35M0 121.19H29.35M0 182.51H29.35M0 228.92H29.35M0 264.83H29.35M0 296.59H29.35M0 306.26H29.35M0 307.99H29.35M0 309.72H29.35M0 311.44H29.35M0 313.17H29.35M0 314.55H29.35M0 316.62H29.35M0 318.69H29.35M0 324.22H29.35M0 329.74H29.35M0 333.89H29.35M0 349.08H29.35M0 367.58H29.35M0 388.30H29.35M0 404.32H29.35M0 455.42H29.35M0 496.86H29.35M0 522.27H29.35M0 561.77H29.35M0 576.96H29.35M0 579.73H29.35M0 588.01H29.35" stroke="#3a3536" stroke-width="1" stroke-opacity="0.72" fill="none"/>
<rect x="0.35" y="44.75" width="28.65" height="551.20" fill="none" stroke="#3a3536" stroke-width="0.8" stroke-opacity="0.8"/>
</g>
<line x1="1057.48" y1="596.80" x2="1057.48" y2="600.90" stroke="#111" stroke-width="1.5"/>
<text x="1066.68" y="610.20" font-size="25.5" text-anchor="end" transform="rotate(-90 1066.68 610.20)">30 V2a INs</text>
<g transform="translate(1075.60 0)">
<rect x="0.00" y="44.40" width="29.35" height="264.07" fill="#EF6E6F"/>
<rect x="0.00" y="308.47" width="29.35" height="287.83" fill="#449D8D"/>
<rect x="0.00" y="45.23" width="29.35" height="2.76" fill="#3a3536" fill-opacity="0.5"/>
<rect x="0.00" y="308.47" width="29.35" height="3.31" fill="#3a3536" fill-opacity="0.5"/>
<rect x="0.00" y="333.89" width="29.35" height="2.76" fill="#3a3536" fill-opacity="0.5"/>
<rect x="0.00" y="590.78" width="29.35" height="4.14" fill="#3a3536" fill-opacity="0.2"/>
<path d="M0 45.23H29.35M0 47.99H29.35M0 60.42H29.35M0 75.61H29.35M0 79.20H29.35M0 110.97H29.35M0 141.08H29.35M0 157.65H29.35M0 180.58H29.35M0 212.90H29.35M0 233.06H29.35M0 260.69H29.35M0 280.02H29.35M0 297.42H29.35M0 308.47H29.35M0 310.13H29.35M0 311.79H29.35M0 320.07H29.35M0 329.74H29.35M0 333.89H29.35M0 336.65H29.35M0 342.17H29.35M0 362.89H29.35M0 391.34H29.35M0 416.20H29.35M0 449.35H29.35M0 476.14H29.35M0 499.62H29.35M0 521.17H29.35M0 537.74H29.35M0 578.35H29.35M0 590.78H29.35M0 592.85H29.35M0 594.92H29.35" stroke="#3a3536" stroke-width="1" stroke-opacity="0.72" fill="none"/>
<rect x="0.35" y="44.75" width="28.65" height="551.20" fill="none" stroke="#3a3536" stroke-width="0.8" stroke-opacity="0.8"/>
</g>
<line x1="1090.27" y1="596.80" x2="1090.27" y2="600.90" stroke="#111" stroke-width="1.5"/>
<text x="1099.47" y="610.20" font-size="25.5" text-anchor="end" transform="rotate(-90 1099.47 610.20)">31 V2b INs</text>
<g transform="translate(1108.39 0)">
<rect x="0.00" y="44.40" width="29.35" height="263.24" fill="#EF6E6F"/>
<rect x="0.00" y="307.64" width="29.35" height="288.66" fill="#449D8D"/>
<rect x="0.00" y="307.64" width="29.35" height="2.76" fill="#3a3536" fill-opacity="0.5"/>
<path d="M0 49.37H29.35M0 53.52H29.35M0 68.71H29.35M0 94.95H29.35M0 111.52H29.35M0 122.57H29.35M0 165.94H29.35M0 209.58H29.35M0 220.08H29.35M0 242.73H29.35M0 254.33H29.35M0 267.04H29.35M0 279.19H29.35M0 289.69H29.35M0 299.36H29.35M0 307.64H29.35M0 310.41H29.35M0 318.69H29.35M0 342.17H29.35M0 380.84H29.35M0 386.37H29.35M0 405.15H29.35M0 418.96H29.35M0 440.23H29.35M0 454.04H29.35M0 487.19H29.35M0 510.67H29.35M0 523.10H29.35M0 542.44H29.35M0 547.13H29.35M0 582.49H29.35M0 593.54H29.35" stroke="#3a3536" stroke-width="1" stroke-opacity="0.72" fill="none"/>
<rect x="0.35" y="44.75" width="28.65" height="551.20" fill="none" stroke="#3a3536" stroke-width="0.8" stroke-opacity="0.8"/>
</g>
<line x1="1123.07" y1="596.80" x2="1123.07" y2="600.90" stroke="#111" stroke-width="1.5"/>
<text x="1132.27" y="610.20" font-size="25.5" text-anchor="end" transform="rotate(-90 1132.27 610.20)">32 Proliferating V2b INs</text>
<g transform="translate(1141.19 0)">
<rect x="0.00" y="44.40" width="29.35" height="249.43" fill="#EF6E6F"/>
<rect x="0.00" y="293.83" width="29.35" height="302.47" fill="#449D8D"/>
<rect x="0.00" y="45.23" width="29.35" height="4.14" fill="#3a3536" fill-opacity="0.5"/>
<rect x="0.00" y="292.45" width="29.35" height="6.91" fill="#3a3536" fill-opacity="0.5"/>
<path d="M0 45.23H29.35M0 47.30H29.35M0 49.37H29.35M0 57.66H29.35M0 68.71H29.35M0 81.97H29.35M0 96.33H29.35M0 168.70H29.35M0 214.56H29.35M0 255.16H29.35M0 292.45H29.35M0 294.18H29.35M0 295.90H29.35M0 297.63H29.35M0 299.36H29.35M0 313.17H29.35M0 324.22H29.35M0 344.93H29.35M0 373.94H29.35M0 421.73H29.35M0 467.30H29.35M0 501.00H29.35M0 560.39H29.35M0 579.73H29.35" stroke="#3a3536" stroke-width="1" stroke-opacity="0.72" fill="none"/>
<rect x="0.35" y="44.75" width="28.65" height="551.20" fill="none" stroke="#3a3536" stroke-width="0.8" stroke-opacity="0.8"/>
</g>
<line x1="1155.87" y1="596.80" x2="1155.87" y2="600.90" stroke="#111" stroke-width="1.5"/>
<text x="1165.07" y="610.20" font-size="25.5" text-anchor="end" transform="rotate(-90 1165.07 610.20)">33 Serotonergic neurons</text>
<g transform="translate(1173.99 0)">
<rect x="0.00" y="44.40" width="29.35" height="295.01" fill="#EF6E6F"/>
<rect x="0.00" y="339.41" width="29.35" height="256.89" fill="#449D8D"/>
<rect x="0.00" y="338.03" width="29.35" height="11.05" fill="#3a3536" fill-opacity="0.5"/>
<rect x="0.00" y="589.39" width="29.35" height="6.91" fill="#3a3536" fill-opacity="0.2"/>
<path d="M0 198.53H29.35M0 313.17H29.35M0 317.31H29.35M0 322.84H29.35M0 328.36H29.35M0 338.03H29.35M0 339.87H29.35M0 341.71H29.35M0 343.55H29.35M0 345.39H29.35M0 347.24H29.35M0 349.08H29.35M0 434.71H29.35M0 564.53H29.35M0 568.68H29.35M0 575.58H29.35M0 582.49H29.35M0 589.39H29.35M0 591.70H29.35M0 594.00H29.35M0 596.30H29.35" stroke="#3a3536" stroke-width="1" stroke-opacity="0.72" fill="none"/>
<rect x="0.35" y="44.75" width="28.65" height="551.20" fill="none" stroke="#3a3536" stroke-width="0.8" stroke-opacity="0.8"/>
</g>
<line x1="1188.66" y1="596.80" x2="1188.66" y2="600.90" stroke="#111" stroke-width="1.5"/>
<text x="1197.86" y="610.20" font-size="25.5" text-anchor="end" transform="rotate(-90 1197.86 610.20)">34 Mesenchyme</text>
<g transform="translate(1206.78 0)">
<rect x="0.00" y="44.40" width="29.35" height="329.54" fill="#EF6E6F"/>
<rect x="0.00" y="373.94" width="29.35" height="222.36" fill="#449D8D"/>
<rect x="0.00" y="262.07" width="29.35" height="2.76" fill="#3a3536" fill-opacity="0.5"/>
<rect x="0.00" y="271.73" width="29.35" height="4.14" fill="#3a3536" fill-opacity="0.5"/>
<rect x="0.00" y="494.10" width="29.35" height="5.52" fill="#3a3536" fill-opacity="0.5"/>
<rect x="0.00" y="507.91" width="29.35" height="5.52" fill="#3a3536" fill-opacity="0.5"/>
<rect x="0.00" y="516.19" width="29.35" height="5.52" fill="#3a3536" fill-opacity="0.5"/>
<rect x="0.00" y="578.35" width="29.35" height="4.14" fill="#3a3536" fill-opacity="0.2"/>
<path d="M0 72.85H29.35M0 107.38H29.35M0 130.03H29.35M0 142.74H29.35M0 173.67H29.35M0 202.68H29.35M0 243.28H29.35M0 246.87H29.35M0 256.54H29.35M0 262.07H29.35M0 264.83H29.35M0 271.73H29.35M0 273.81H29.35M0 275.88H29.35M0 280.02H29.35M0 287.48H29.35M0 306.26H29.35M0 314.55H29.35M0 332.50H29.35M0 335.27H29.35M0 344.93H29.35M0 354.60H29.35M0 360.13H29.35M0 365.65H29.35M0 372.56H29.35M0 375.32H29.35M0 400.18H29.35M0 418.13H29.35M0 427.80H29.35M0 449.90H29.35M0 469.24H29.35M0 494.10H29.35M0 495.94H29.35M0 497.78H29.35M0 499.62H29.35M0 507.91H29.35M0 509.75H29.35M0 511.59H29.35M0 513.43H29.35M0 516.19H29.35M0 518.04H29.35M0 519.88H29.35M0 521.72H29.35M0 527.24H29.35M0 535.53H29.35M0 541.05H29.35M0 570.06H29.35M0 578.35H29.35M0 580.42H29.35M0 582.49H29.35M0 590.78H29.35" stroke="#3a3536" stroke-width="1" stroke-opacity="0.72" fill="none"/>
<rect x="0.35" y="44.75" width="28.65" height="551.20" fill="none" stroke="#3a3536" stroke-width="0.8" stroke-opacity="0.8"/>
</g>
<line x1="1221.45" y1="596.80" x2="1221.45" y2="600.90" stroke="#111" stroke-width="1.5"/>
<text x="1230.65" y="610.20" font-size="25.5" text-anchor="end" transform="rotate(-90 1230.65 610.20)">35 Meninges</text>
<g transform="translate(1239.58 0)">
<rect x="0.00" y="44.40" width="29.35" height="281.20" fill="#EF6E6F"/>
<rect x="0.00" y="325.60" width="29.35" height="270.70" fill="#449D8D"/>
<rect x="0.00" y="45.23" width="29.35" height="2.76" fill="#3a3536" fill-opacity="0.5"/>
<rect x="0.00" y="62.63" width="29.35" height="2.21" fill="#3a3536" fill-opacity="0.5"/>
<rect x="0.00" y="72.85" width="29.35" height="8.29" fill="#3a3536" fill-opacity="0.5"/>
<rect x="0.00" y="325.60" width="29.35" height="2.76" fill="#3a3536" fill-opacity="0.5"/>
<rect x="0.00" y="332.50" width="29.35" height="4.14" fill="#3a3536" fill-opacity="0.5"/>
<rect x="0.00" y="357.36" width="29.35" height="2.76" fill="#3a3536" fill-opacity="0.5"/>
<rect x="0.00" y="368.41" width="29.35" height="2.76" fill="#3a3536" fill-opacity="0.5"/>
<path d="M0 45.23H29.35M0 47.99H29.35M0 52.13H29.35M0 57.66H29.35M0 62.63H29.35M0 64.84H29.35M0 72.85H29.35M0 74.92H29.35M0 76.99H29.35M0 79.07H29.35M0 81.14H29.35M0 83.07H29.35M0 112.08H29.35M0 121.74H29.35M0 148.81H29.35M0 203.51H29.35M0 206.82H29.35M0 212.35H29.35M0 224.22H29.35M0 244.94H29.35M0 256.54H29.35M0 267.04H29.35M0 299.36H29.35M0 310.41H29.35M0 325.60H29.35M0 328.36H29.35M0 332.50H29.35M0 334.58H29.35M0 336.65H29.35M0 340.79H29.35M0 351.84H29.35M0 357.36H29.35M0 360.13H29.35M0 368.41H29.35M0 371.18H29.35M0 375.32H29.35M0 383.61H29.35M0 397.42H29.35M0 416.75H29.35M0 422.28H29.35M0 445.76H29.35M0 467.85H29.35M0 480.28H29.35M0 493.54H29.35M0 516.75H29.35M0 541.05H29.35M0 568.12H29.35M0 593.54H29.35" stroke="#3a3536" stroke-width="1" stroke-opacity="0.72" fill="none"/>
<rect x="0.35" y="44.75" width="28.65" height="551.20" fill="none" stroke="#3a3536" stroke-width="0.8" stroke-opacity="0.8"/>
</g>
<line x1="1254.25" y1="596.80" x2="1254.25" y2="600.90" stroke="#111" stroke-width="1.5"/>
<text x="1263.45" y="610.20" font-size="25.5" text-anchor="end" transform="rotate(-90 1263.45 610.20)">36 Pericytes</text>
<g transform="translate(1272.37 0)">
<rect x="0.00" y="44.40" width="29.35" height="365.45" fill="#EF6E6F"/>
<rect x="0.00" y="409.85" width="29.35" height="186.45" fill="#449D8D"/>
<rect x="0.00" y="407.91" width="29.35" height="2.76" fill="#3a3536" fill-opacity="0.5"/>
<rect x="0.00" y="588.01" width="29.35" height="5.52" fill="#3a3536" fill-opacity="0.2"/>
<path d="M0 163.18H29.35M0 324.22H29.35M0 352.67H29.35M0 368.41H29.35M0 407.91H29.35M0 410.68H29.35M0 459.57H29.35M0 541.05H29.35M0 561.77H29.35M0 567.30H29.35M0 588.01H29.35M0 590.78H29.35M0 593.54H29.35" stroke="#3a3536" stroke-width="1" stroke-opacity="0.72" fill="none"/>
<rect x="0.35" y="44.75" width="28.65" height="551.20" fill="none" stroke="#3a3536" stroke-width="0.8" stroke-opacity="0.8"/>
</g>
<line x1="1287.05" y1="596.80" x2="1287.05" y2="600.90" stroke="#111" stroke-width="1.5"/>
<text x="1296.25" y="610.20" font-size="25.5" text-anchor="end" transform="rotate(-90 1296.25 610.20)">37 Epithelial cells</text>
<g transform="translate(1305.16 0)">
<rect x="0.00" y="44.40" width="29.35" height="263.24" fill="#EF6E6F"/>
<rect x="0.00" y="307.64" width="29.35" height="288.66" fill="#449D8D"/>
<rect x="0.00" y="196.60" width="29.35" height="10.22" fill="#3a3536" fill-opacity="0.5"/>
<rect x="0.00" y="245.49" width="29.35" height="2.76" fill="#3a3536" fill-opacity="0.5"/>
<rect x="0.00" y="472.00" width="29.35" height="13.81" fill="#3a3536" fill-opacity="0.5"/>
<rect x="0.00" y="525.86" width="29.35" height="4.14" fill="#3a3536" fill-opacity="0.5"/>
<path d="M0 80.31H29.35M0 119.81H29.35M0 141.91H29.35M0 150.75H29.35M0 163.18H29.35M0 175.06H29.35M0 196.60H29.35M0 198.64H29.35M0 200.69H29.35M0 202.73H29.35M0 204.78H29.35M0 206.82H29.35M0 212.35H29.35M0 220.63H29.35M0 245.49H29.35M0 248.25H29.35M0 258.75H29.35M0 262.07H29.35M0 293.83H29.35M0 297.98H29.35M0 302.12H29.35M0 307.64H29.35M0 328.36H29.35M0 407.09H29.35M0 418.96H29.35M0 429.74H29.35M0 438.85H29.35M0 455.42H29.35M0 472.00H29.35M0 473.97H29.35M0 475.94H29.35M0 477.92H29.35M0 479.89H29.35M0 481.86H29.35M0 483.84H29.35M0 485.81H29.35M0 525.86H29.35M0 527.93H29.35M0 530.01H29.35M0 535.53H29.35M0 543.82H29.35M0 552.93H29.35M0 570.06H29.35M0 575.58H29.35M0 583.87H29.35" stroke="#3a3536" stroke-width="1" stroke-opacity="0.72" fill="none"/>
<rect x="0.35" y="44.75" width="28.65" height="551.20" fill="none" stroke="#3a3536" stroke-width="0.8" stroke-opacity="0.8"/>
</g>
<line x1="1319.84" y1="596.80" x2="1319.84" y2="600.90" stroke="#111" stroke-width="1.5"/>
<text x="1329.04" y="610.20" font-size="25.5" text-anchor="end" transform="rotate(-90 1329.04 610.20)">38 Endothelial cells</text>
<g transform="translate(1337.96 0)">
<rect x="0.00" y="44.40" width="29.35" height="212.69" fill="#EF6E6F"/>
<rect x="0.00" y="257.09" width="29.35" height="339.21" fill="#449D8D"/>
<path d="M0 50.75H29.35M0 57.66H29.35M0 64.56H29.35M0 112.90H29.35M0 118.98H29.35M0 142.46H29.35M0 210.96H29.35M0 220.63H29.35M0 239.97H29.35M0 244.11H29.35M0 248.25H29.35M0 251.02H29.35M0 253.78H29.35M0 257.09H29.35M0 260.69H29.35M0 264.83H29.35M0 268.97H29.35M0 400.18H29.35M0 593.54H29.35" stroke="#3a3536" stroke-width="1" stroke-opacity="0.72" fill="none"/>
<rect x="0.35" y="44.75" width="28.65" height="551.20" fill="none" stroke="#3a3536" stroke-width="0.8" stroke-opacity="0.8"/>
</g>
<line x1="1352.63" y1="596.80" x2="1352.63" y2="600.90" stroke="#111" stroke-width="1.5"/>
<text x="1361.84" y="610.20" font-size="25.5" text-anchor="end" transform="rotate(-90 1361.84 610.20)">39 Schwann cells</text>
<g transform="translate(1370.76 0)">
<rect x="0.00" y="44.40" width="29.35" height="296.39" fill="#EF6E6F"/>
<rect x="0.00" y="340.79" width="29.35" height="255.51" fill="#449D8D"/>
<rect x="0.00" y="61.80" width="29.35" height="2.76" fill="#3a3536" fill-opacity="0.5"/>
<rect x="0.00" y="100.47" width="29.35" height="5.52" fill="#3a3536" fill-opacity="0.5"/>
<rect x="0.00" y="121.19" width="29.35" height="4.14" fill="#3a3536" fill-opacity="0.5"/>
<rect x="0.00" y="201.30" width="29.35" height="2.76" fill="#3a3536" fill-opacity="0.5"/>
<rect x="0.00" y="340.79" width="29.35" height="2.76" fill="#3a3536" fill-opacity="0.5"/>
<rect x="0.00" y="371.18" width="29.35" height="5.52" fill="#3a3536" fill-opacity="0.5"/>
<rect x="0.00" y="383.61" width="29.35" height="6.91" fill="#3a3536" fill-opacity="0.5"/>
<rect x="0.00" y="397.42" width="29.35" height="2.76" fill="#3a3536" fill-opacity="0.5"/>
<rect x="0.00" y="481.67" width="29.35" height="2.76" fill="#3a3536" fill-opacity="0.5"/>
<path d="M0 46.61H29.35M0 52.13H29.35M0 59.04H29.35M0 61.80H29.35M0 64.56H29.35M0 67.33H29.35M0 71.47H29.35M0 75.61H29.35M0 79.76H29.35M0 83.90H29.35M0 86.66H29.35M0 94.95H29.35M0 100.47H29.35M0 102.32H29.35M0 104.16H29.35M0 106.00H29.35M0 112.90H29.35M0 121.19H29.35M0 123.26H29.35M0 125.33H29.35M0 191.63H29.35M0 201.30H29.35M0 204.06H29.35M0 220.63H29.35M0 250.46H29.35M0 286.93H29.35M0 295.21H29.35M0 317.31H29.35M0 340.79H29.35M0 343.55H29.35M0 347.70H29.35M0 353.22H29.35M0 367.03H29.35M0 371.18H29.35M0 373.02H29.35M0 374.86H29.35M0 376.70H29.35M0 383.61H29.35M0 385.33H29.35M0 387.06H29.35M0 388.79H29.35M0 390.51H29.35M0 397.42H29.35M0 400.18H29.35M0 404.32H29.35M0 408.47H29.35M0 465.09H29.35M0 469.24H29.35M0 481.67H29.35M0 484.43H29.35M0 488.02H29.35M0 498.24H29.35M0 509.29H29.35M0 535.53H29.35M0 553.48H29.35M0 571.44H29.35" stroke="#3a3536" stroke-width="1" stroke-opacity="0.72" fill="none"/>
<rect x="0.35" y="44.75" width="28.65" height="551.20" fill="none" stroke="#3a3536" stroke-width="0.8" stroke-opacity="0.8"/>
</g>
<line x1="1385.43" y1="596.80" x2="1385.43" y2="600.90" stroke="#111" stroke-width="1.5"/>
<text x="1394.63" y="610.20" font-size="25.5" text-anchor="end" transform="rotate(-90 1394.63 610.20)">40 Immune cells</text>
<g transform="translate(1403.55 0)">
<rect x="0.00" y="44.40" width="29.35" height="297.77" fill="#EF6E6F"/>
<rect x="0.00" y="342.17" width="29.35" height="254.13" fill="#449D8D"/>
<rect x="0.00" y="217.87" width="29.35" height="2.76" fill="#3a3536" fill-opacity="0.5"/>
<rect x="0.00" y="227.54" width="29.35" height="2.76" fill="#3a3536" fill-opacity="0.5"/>
<rect x="0.00" y="242.18" width="29.35" height="6.08" fill="#3a3536" fill-opacity="0.5"/>
<rect x="0.00" y="256.54" width="29.35" height="2.76" fill="#3a3536" fill-opacity="0.5"/>
<rect x="0.00" y="290.24" width="29.35" height="3.59" fill="#3a3536" fill-opacity="0.5"/>
<rect x="0.00" y="320.07" width="29.35" height="2.21" fill="#3a3536" fill-opacity="0.5"/>
<rect x="0.00" y="444.38" width="29.35" height="4.14" fill="#3a3536" fill-opacity="0.5"/>
<rect x="0.00" y="456.81" width="29.35" height="5.52" fill="#3a3536" fill-opacity="0.5"/>
<rect x="0.00" y="536.91" width="29.35" height="2.76" fill="#3a3536" fill-opacity="0.5"/>
<rect x="0.00" y="576.96" width="29.35" height="2.76" fill="#3a3536" fill-opacity="0.2"/>
<path d="M0 65.95H29.35M0 99.65H29.35M0 128.65H29.35M0 135.55H29.35M0 150.19H29.35M0 175.88H29.35M0 217.87H29.35M0 220.63H29.35M0 227.54H29.35M0 230.30H29.35M0 235.82H29.35M0 242.18H29.35M0 244.20H29.35M0 246.23H29.35M0 248.25H29.35M0 256.54H29.35M0 259.30H29.35M0 273.12H29.35M0 281.40H29.35M0 290.24H29.35M0 292.04H29.35M0 293.83H29.35M0 303.50H29.35M0 320.07H29.35M0 322.28H29.35M0 332.50H29.35M0 342.17H29.35M0 352.67H29.35M0 367.03H29.35M0 375.32H29.35M0 394.65H29.35M0 412.61H29.35M0 444.38H29.35M0 446.45H29.35M0 448.52H29.35M0 456.81H29.35M0 458.65H29.35M0 460.49H29.35M0 462.33H29.35M0 472.00H29.35M0 479.73H29.35M0 518.96H29.35M0 527.24H29.35M0 536.91H29.35M0 539.67H29.35M0 547.13H29.35M0 560.39H29.35M0 576.96H29.35M0 579.73H29.35M0 585.25H29.35" stroke="#3a3536" stroke-width="1" stroke-opacity="0.72" fill="none"/>
<rect x="0.35" y="44.75" width="28.65" height="551.20" fill="none" stroke="#3a3536" stroke-width="0.8" stroke-opacity="0.8"/>
</g>
<line x1="1418.23" y1="596.80" x2="1418.23" y2="600.90" stroke="#111" stroke-width="1.5"/>
<text x="1427.43" y="610.20" font-size="25.5" text-anchor="end" transform="rotate(-90 1427.43 610.20)">41 Erythrocytes</text>
<line x1="91.50" y1="43.90" x2="91.50" y2="597.30" stroke="#000" stroke-width="1.4"/>
<line x1="90.80" y1="596.90" x2="1433.30" y2="596.90" stroke="#000" stroke-width="1.3"/>
<text x="1451.60" y="91.00" font-size="25.2">Replicate</text>
<rect x="1451.80" y="109.50" width="25.9" height="28.85" fill="#EF6E6F" stroke="#7d4040" stroke-width="0.9"/>
<text x="1482.20" y="132.20" font-size="25">E9F1</text>
<rect x="1451.80" y="139.15" width="25.9" height="28.85" fill="#EF6E6F" stroke="#7d4040" stroke-width="0.9"/>
<text x="1482.20" y="161.85" font-size="25">E9F2</text>
<rect x="1451.80" y="168.80" width="25.9" height="28.85" fill="#EF6E6F" stroke="#7d4040" stroke-width="0.9"/>
<text x="1482.20" y="191.50" font-size="25">E9F3</text>
<rect x="1451.80" y="198.45" width="25.9" height="28.85" fill="#EF6E6F" stroke="#7d4040" stroke-width="0.9"/>
<text x="1482.20" y="221.15" font-size="25">E10F1</text>
<rect x="1451.80" y="228.10" width="25.9" height="28.85" fill="#EF6E6F" stroke="#7d4040" stroke-width="0.9"/>
<text x="1482.20" y="250.80" font-size="25">E10F2</text>
<rect x="1451.80" y="257.75" width="25.9" height="28.85" fill="#EF6E6F" stroke="#7d4040" stroke-width="0.9"/>
<text x="1482.20" y="280.45" font-size="25">E10F3</text>
<rect x="1451.80" y="287.40" width="25.9" height="28.85" fill="#EF6E6F" stroke="#7d4040" stroke-width="0.9"/>
<text x="1482.20" y="310.10" font-size="25">E10F4</text>
<rect x="1451.80" y="317.05" width="25.9" height="28.85" fill="#EF6E6F" stroke="#7d4040" stroke-width="0.9"/>
<text x="1482.20" y="339.75" font-size="25">E11F1</text>
<rect x="1451.80" y="346.70" width="25.9" height="28.85" fill="#EF6E6F" stroke="#7d4040" stroke-width="0.9"/>
<text x="1482.20" y="369.40" font-size="25">E11F2</text>
<rect x="1451.80" y="376.35" width="25.9" height="28.85" fill="#EF6E6F" stroke="#7d4040" stroke-width="0.9"/>
<text x="1482.20" y="399.05" font-size="25">E11F3</text>
<rect x="1451.80" y="406.00" width="25.9" height="28.85" fill="#EF6E6F" stroke="#7d4040" stroke-width="0.9"/>
<text x="1482.20" y="428.70" font-size="25">E11F4</text>
<rect x="1451.80" y="435.65" width="25.9" height="28.85" fill="#EF6E6F" stroke="#7d4040" stroke-width="0.9"/>
<text x="1482.20" y="458.35" font-size="25">E12F1</text>
<rect x="1451.80" y="465.30" width="25.9" height="28.85" fill="#EF6E6F" stroke="#7d4040" stroke-width="0.9"/>
<text x="1482.20" y="488.00" font-size="25">E12F2</text>
<rect x="1451.80" y="494.95" width="25.9" height="28.85" fill="#EF6E6F" stroke="#7d4040" stroke-width="0.9"/>
<text x="1482.20" y="517.65" font-size="25">E12F3</text>
<rect x="1451.80" y="524.60" width="25.9" height="28.85" fill="#EF6E6F" stroke="#7d4040" stroke-width="0.9"/>
<text x="1482.20" y="547.30" font-size="25">E12F4</text>
<rect x="1451.80" y="554.25" width="25.9" height="28.85" fill="#EF6E6F" stroke="#7d4040" stroke-width="0.9"/>
<text x="1482.20" y="576.95" font-size="25">E13F1</text>
<rect x="1589.80" y="109.50" width="25.9" height="28.85" fill="#EF6E6F" stroke="#7d4040" stroke-width="0.9"/>
<text x="1619.30" y="134.10" font-size="25">E13F2</text>
<rect x="1589.80" y="139.15" width="25.9" height="28.85" fill="#EF6E6F" stroke="#7d4040" stroke-width="0.9"/>
<text x="1619.30" y="163.75" font-size="25">E13F3</text>
<rect x="1589.80" y="168.80" width="25.9" height="28.85" fill="#EF6E6F" stroke="#7d4040" stroke-width="0.9"/>
<text x="1619.30" y="193.40" font-size="25">E13F4</text>
<rect x="1589.80" y="198.45" width="25.9" height="28.85" fill="#EF6E6F" stroke="#7d4040" stroke-width="0.9"/>
<text x="1619.30" y="223.05" font-size="25">E14F1</text>
<rect x="1589.80" y="228.10" width="25.9" height="28.85" fill="#EF6E6F" stroke="#7d4040" stroke-width="0.9"/>
<text x="1619.30" y="252.70" font-size="25">E14F2</text>
<rect x="1589.80" y="257.75" width="25.9" height="28.85" fill="#EF6E6F" stroke="#7d4040" stroke-width="0.9"/>
<text x="1619.30" y="282.35" font-size="25">E14F3</text>
<rect x="1589.80" y="287.40" width="25.9" height="28.85" fill="#EF6E6F" stroke="#7d4040" stroke-width="0.9"/>
<text x="1619.30" y="312.00" font-size="25">E14F4</text>
<rect x="1589.80" y="317.05" width="25.9" height="28.85" fill="#EF6E6F" stroke="#7d4040" stroke-width="0.9"/>
<text x="1619.30" y="341.65" font-size="25">E16F1</text>
<rect x="1589.80" y="346.70" width="25.9" height="28.85" fill="#EF6E6F" stroke="#7d4040" stroke-width="0.9"/>
<text x="1619.30" y="371.30" font-size="25">E16F2</text>
<rect x="1589.80" y="376.35" width="25.9" height="28.85" fill="#EF6E6F" stroke="#7d4040" stroke-width="0.9"/>
<text x="1619.30" y="400.95" font-size="25">E16F3</text>
<rect x="1589.80" y="406.00" width="25.9" height="28.85" fill="#EF6E6F" stroke="#7d4040" stroke-width="0.9"/>
<text x="1619.30" y="430.60" font-size="25">E16F4</text>
<rect x="1589.80" y="435.65" width="25.9" height="28.85" fill="#EF6E6F" stroke="#7d4040" stroke-width="0.9"/>
<text x="1619.30" y="460.25" font-size="25">E18F1</text>
<rect x="1589.80" y="465.30" width="25.9" height="28.85" fill="#EF6E6F" stroke="#7d4040" stroke-width="0.9"/>
<text x="1619.30" y="489.90" font-size="25">E18F2</text>
<rect x="1589.80" y="494.95" width="25.9" height="28.85" fill="#EF6E6F" stroke="#7d4040" stroke-width="0.9"/>
<text x="1619.30" y="519.55" font-size="25">E18F3</text>
<rect x="1589.80" y="524.60" width="25.9" height="28.85" fill="#EF6E6F" stroke="#7d4040" stroke-width="0.9"/>
<text x="1619.30" y="549.20" font-size="25">E18F4</text>
<rect x="1728.30" y="109.50" width="25.9" height="28.85" fill="#449D8D" stroke="#2f5a54" stroke-width="0.9"/>
<text x="1758.70" y="135.40" font-size="25">E9M1</text>
<rect x="1728.30" y="139.15" width="25.9" height="28.85" fill="#449D8D" stroke="#2f5a54" stroke-width="0.9"/>
<text x="1758.70" y="165.05" font-size="25">E9M2</text>
<rect x="1728.30" y="168.80" width="25.9" height="28.85" fill="#449D8D" stroke="#2f5a54" stroke-width="0.9"/>
<text x="1758.70" y="194.70" font-size="25">E9M3</text>
<rect x="1728.30" y="198.45" width="25.9" height="28.85" fill="#449D8D" stroke="#2f5a54" stroke-width="0.9"/>
<text x="1758.70" y="224.35" font-size="25">E10M1</text>
<rect x="1728.30" y="228.10" width="25.9" height="28.85" fill="#449D8D" stroke="#2f5a54" stroke-width="0.9"/>
<text x="1758.70" y="254.00" font-size="25">E10M2</text>
<rect x="1728.30" y="257.75" width="25.9" height="28.85" fill="#449D8D" stroke="#2f5a54" stroke-width="0.9"/>
<text x="1758.70" y="283.65" font-size="25">E10M3</text>
<rect x="1728.30" y="287.40" width="25.9" height="28.85" fill="#449D8D" stroke="#2f5a54" stroke-width="0.9"/>
<text x="1758.70" y="313.30" font-size="25">E10M4</text>
<rect x="1728.30" y="317.05" width="25.9" height="28.85" fill="#449D8D" stroke="#2f5a54" stroke-width="0.9"/>
<text x="1758.70" y="342.95" font-size="25">E11M1</text>
<rect x="1728.30" y="346.70" width="25.9" height="28.85" fill="#449D8D" stroke="#2f5a54" stroke-width="0.9"/>
<text x="1758.70" y="372.60" font-size="25">E11M2</text>
<rect x="1728.30" y="376.35" width="25.9" height="28.85" fill="#449D8D" stroke="#2f5a54" stroke-width="0.9"/>
<text x="1758.70" y="402.25" font-size="25">E11M3</text>
<rect x="1728.30" y="406.00" width="25.9" height="28.85" fill="#449D8D" stroke="#2f5a54" stroke-width="0.9"/>
<text x="1758.70" y="431.90" font-size="25">E11M4</text>
<rect x="1728.30" y="435.65" width="25.9" height="28.85" fill="#449D8D" stroke="#2f5a54" stroke-width="0.9"/>
<text x="1758.70" y="461.55" font-size="25">E12M1</text>
<rect x="1728.30" y="465.30" width="25.9" height="28.85" fill="#449D8D" stroke="#2f5a54" stroke-width="0.9"/>
<text x="1758.70" y="491.20" font-size="25">E12M2</text>
<rect x="1728.30" y="494.95" width="25.9" height="28.85" fill="#449D8D" stroke="#2f5a54" stroke-width="0.9"/>
<text x="1758.70" y="520.85" font-size="25">E12M3</text>
<rect x="1728.30" y="524.60" width="25.9" height="28.85" fill="#449D8D" stroke="#2f5a54" stroke-width="0.9"/>
<text x="1758.70" y="550.50" font-size="25">E12M4</text>
<rect x="1728.30" y="554.25" width="25.9" height="28.85" fill="#449D8D" stroke="#2f5a54" stroke-width="0.9"/>
<text x="1758.70" y="580.15" font-size="25">E13M1</text>
<rect x="1873.50" y="109.50" width="25.9" height="28.85" fill="#449D8D" stroke="#2f5a54" stroke-width="0.9"/>
<text x="1904.40" y="134.80" font-size="25">E13M2</text>
<rect x="1873.50" y="139.15" width="25.9" height="28.85" fill="#449D8D" stroke="#2f5a54" stroke-width="0.9"/>
<text x="1904.40" y="164.45" font-size="25">E13M3</text>
<rect x="1873.50" y="168.80" width="25.9" height="28.85" fill="#449D8D" stroke="#2f5a54" stroke-width="0.9"/>
<text x="1904.40" y="194.10" font-size="25">E13M4</text>
<rect x="1873.50" y="198.45" width="25.9" height="28.85" fill="#449D8D" stroke="#2f5a54" stroke-width="0.9"/>
<text x="1904.40" y="223.75" font-size="25">E14M1</text>
<rect x="1873.50" y="228.10" width="25.9" height="28.85" fill="#449D8D" stroke="#2f5a54" stroke-width="0.9"/>
<text x="1904.40" y="253.40" font-size="25">E14M2</text>
<rect x="1873.50" y="257.75" width="25.9" height="28.85" fill="#449D8D" stroke="#2f5a54" stroke-width="0.9"/>
<text x="1904.40" y="283.05" font-size="25">E14M3</text>
<rect x="1873.50" y="287.40" width="25.9" height="28.85" fill="#449D8D" stroke="#2f5a54" stroke-width="0.9"/>
<text x="1904.40" y="312.70" font-size="25">E14M4</text>
<rect x="1873.50" y="317.05" width="25.9" height="28.85" fill="#449D8D" stroke="#2f5a54" stroke-width="0.9"/>
<text x="1904.40" y="342.35" font-size="25">E16M1</text>
<rect x="1873.50" y="346.70" width="25.9" height="28.85" fill="#449D8D" stroke="#2f5a54" stroke-width="0.9"/>
<text x="1904.40" y="372.00" font-size="25">E16M2</text>
<rect x="1873.50" y="376.35" width="25.9" height="28.85" fill="#449D8D" stroke="#2f5a54" stroke-width="0.9"/>
<text x="1904.40" y="401.65" font-size="25">E16M3</text>
<rect x="1873.50" y="406.00" width="25.9" height="28.85" fill="#449D8D" stroke="#2f5a54" stroke-width="0.9"/>
<text x="1904.40" y="431.30" font-size="25">E16M4</text>
<rect x="1873.50" y="435.65" width="25.9" height="28.85" fill="#449D8D" stroke="#2f5a54" stroke-width="0.9"/>
<text x="1904.40" y="460.95" font-size="25">E18M1</text>
<rect x="1873.50" y="465.30" width="25.9" height="28.85" fill="#449D8D" stroke="#2f5a54" stroke-width="0.9"/>
<text x="1904.40" y="490.60" font-size="25">E18M2</text>
<rect x="1873.50" y="494.95" width="25.9" height="28.85" fill="#449D8D" stroke="#2f5a54" stroke-width="0.9"/>
<text x="1904.40" y="520.25" font-size="25">E18M3</text>
<rect x="1873.50" y="524.60" width="25.9" height="28.85" fill="#449D8D" stroke="#2f5a54" stroke-width="0.9"/>
<text x="1904.40" y="549.90" font-size="25">E18M4</text>
</g>
<g id="panel-b">
<text x="0.80" y="1056.20" font-size="32.5" font-weight="bold">b</text>
<rect x="509.50" y="1026.75" width="10.25" height="26.50" fill="#5FD6CA"/>
<rect x="519.75" y="1026.75" width="12.00" height="26.50" fill="#FC83FB"/>
<line x1="314.00" y1="1040.00" x2="320.00" y2="1040.00" stroke="#333" stroke-width="1.1"/>
<text x="306.90" y="1047.60" font-size="21.4" text-anchor="end">41 Erythrocytes</text>
<rect x="513.25" y="1056.94" width="6.50" height="26.50" fill="#5FD6CA"/>
<rect x="519.75" y="1056.94" width="7.25" height="26.50" fill="#FC83FB"/>
<line x1="314.00" y1="1070.19" x2="320.00" y2="1070.19" stroke="#333" stroke-width="1.1"/>
<text x="306.90" y="1077.79" font-size="21.4" text-anchor="end">40 Immune cells</text>
<rect x="519.40" y="1087.12" width="0.35" height="26.50" fill="#5FD6CA"/>
<rect x="519.75" y="1087.12" width="0.35" height="26.50" fill="#FC83FB"/>
<line x1="314.00" y1="1100.38" x2="320.00" y2="1100.38" stroke="#333" stroke-width="1.1"/>
<text x="306.90" y="1107.97" font-size="21.4" text-anchor="end">39 Schwann cells</text>
<rect x="512.25" y="1117.31" width="7.50" height="26.50" fill="#5FD6CA"/>
<rect x="519.75" y="1117.31" width="6.75" height="26.50" fill="#FC83FB"/>
<line x1="314.00" y1="1130.56" x2="320.00" y2="1130.56" stroke="#333" stroke-width="1.1"/>
<text x="306.90" y="1138.16" font-size="21.4" text-anchor="end">38 Endothelial cells</text>
<rect x="514.75" y="1147.50" width="5.00" height="26.50" fill="#5FD6CA"/>
<rect x="519.75" y="1147.50" width="9.75" height="26.50" fill="#FC83FB"/>
<line x1="314.00" y1="1160.75" x2="320.00" y2="1160.75" stroke="#333" stroke-width="1.1"/>
<text x="306.90" y="1168.35" font-size="21.4" text-anchor="end">37 Epithelial cells</text>
<rect x="514.75" y="1177.69" width="5.00" height="26.50" fill="#5FD6CA"/>
<rect x="519.75" y="1177.69" width="5.00" height="26.50" fill="#FC83FB"/>
<line x1="314.00" y1="1190.94" x2="320.00" y2="1190.94" stroke="#333" stroke-width="1.1"/>
<text x="306.90" y="1198.54" font-size="21.4" text-anchor="end">36 Pericytes</text>
<rect x="475.75" y="1207.88" width="44.00" height="26.50" fill="#5FD6CA"/>
<rect x="519.75" y="1207.88" width="64.50" height="26.50" fill="#FC83FB"/>
<line x1="314.00" y1="1221.12" x2="320.00" y2="1221.12" stroke="#333" stroke-width="1.1"/>
<text x="306.90" y="1228.72" font-size="21.4" text-anchor="end">35 Meninges</text>
<rect x="510.50" y="1238.06" width="9.25" height="26.50" fill="#5FD6CA"/>
<rect x="519.75" y="1238.06" width="11.25" height="26.50" fill="#FC83FB"/>
<line x1="314.00" y1="1251.31" x2="320.00" y2="1251.31" stroke="#333" stroke-width="1.1"/>
<text x="306.90" y="1258.91" font-size="21.4" text-anchor="end">34 Mesenchyme</text>
<rect x="517.00" y="1268.25" width="2.75" height="26.50" fill="#5FD6CA"/>
<rect x="519.75" y="1268.25" width="1.75" height="26.50" fill="#FC83FB"/>
<line x1="314.00" y1="1281.50" x2="320.00" y2="1281.50" stroke="#333" stroke-width="1.1"/>
<text x="306.90" y="1289.10" font-size="21.4" text-anchor="end">33 Serotonergic neurons</text>
<rect x="516.25" y="1298.44" width="3.50" height="26.50" fill="#5FD6CA"/>
<rect x="519.75" y="1298.44" width="3.00" height="26.50" fill="#FC83FB"/>
<line x1="314.00" y1="1311.69" x2="320.00" y2="1311.69" stroke="#333" stroke-width="1.1"/>
<text x="306.90" y="1319.29" font-size="21.4" text-anchor="end">32 Proliferating V2b INs</text>
<rect x="516.25" y="1328.62" width="3.50" height="26.50" fill="#5FD6CA"/>
<rect x="519.75" y="1328.62" width="3.25" height="26.50" fill="#FC83FB"/>
<line x1="314.00" y1="1341.88" x2="320.00" y2="1341.88" stroke="#333" stroke-width="1.1"/>
<text x="306.90" y="1349.47" font-size="21.4" text-anchor="end">31 V2b INs</text>
<rect x="512.25" y="1358.81" width="7.50" height="26.50" fill="#5FD6CA"/>
<rect x="519.75" y="1358.81" width="7.25" height="26.50" fill="#FC83FB"/>
<line x1="314.00" y1="1372.06" x2="320.00" y2="1372.06" stroke="#333" stroke-width="1.1"/>
<text x="306.90" y="1379.66" font-size="21.4" text-anchor="end">30 V2a INs</text>
<rect x="498.00" y="1389.00" width="21.75" height="26.50" fill="#5FD6CA"/>
<rect x="519.75" y="1389.00" width="23.50" height="26.50" fill="#FC83FB"/>
<line x1="314.00" y1="1402.25" x2="320.00" y2="1402.25" stroke="#333" stroke-width="1.1"/>
<text x="306.90" y="1409.85" font-size="21.4" text-anchor="end">29 Motor neurons</text>
<rect x="448.25" y="1419.19" width="71.50" height="26.50" fill="#5FD6CA"/>
<rect x="519.75" y="1419.19" width="69.75" height="26.50" fill="#FC83FB"/>
<line x1="314.00" y1="1432.44" x2="320.00" y2="1432.44" stroke="#333" stroke-width="1.1"/>
<text x="306.90" y="1440.04" font-size="21.4" text-anchor="end">28 Purkinje cells</text>
<rect x="323.00" y="1449.38" width="196.75" height="26.50" fill="#5FD6CA"/>
<rect x="519.75" y="1449.38" width="186.25" height="26.50" fill="#FC83FB"/>
<line x1="314.00" y1="1462.62" x2="320.00" y2="1462.62" stroke="#333" stroke-width="1.1"/>
<text x="306.90" y="1470.22" font-size="21.4" text-anchor="end">27 GABAergic INs</text>
<rect x="510.75" y="1479.56" width="9.00" height="26.50" fill="#5FD6CA"/>
<rect x="519.75" y="1479.56" width="8.50" height="26.50" fill="#FC83FB"/>
<line x1="314.00" y1="1492.81" x2="320.00" y2="1492.81" stroke="#333" stroke-width="1.1"/>
<text x="306.90" y="1500.41" font-size="21.4" text-anchor="end">26 GABAergic IN progenitors</text>
<rect x="422.00" y="1509.75" width="97.75" height="26.50" fill="#5FD6CA"/>
<rect x="519.75" y="1509.75" width="89.00" height="26.50" fill="#FC83FB"/>
<line x1="314.00" y1="1523.00" x2="320.00" y2="1523.00" stroke="#333" stroke-width="1.1"/>
<text x="306.90" y="1530.60" font-size="21.4" text-anchor="end">25 eDCN</text>
<rect x="497.75" y="1539.94" width="22.00" height="26.50" fill="#5FD6CA"/>
<rect x="519.75" y="1539.94" width="21.75" height="26.50" fill="#FC83FB"/>
<line x1="314.00" y1="1553.19" x2="320.00" y2="1553.19" stroke="#333" stroke-width="1.1"/>
<text x="306.90" y="1560.79" font-size="21.4" text-anchor="end">24 NTZ neurons</text>
<rect x="500.75" y="1570.12" width="19.00" height="26.50" fill="#5FD6CA"/>
<rect x="519.75" y="1570.12" width="19.75" height="26.50" fill="#FC83FB"/>
<line x1="314.00" y1="1583.38" x2="320.00" y2="1583.38" stroke="#333" stroke-width="1.1"/>
<text x="306.90" y="1590.97" font-size="21.4" text-anchor="end">23 UBCs</text>
<rect x="504.75" y="1600.31" width="15.00" height="26.50" fill="#5FD6CA"/>
<rect x="519.75" y="1600.31" width="16.25" height="26.50" fill="#FC83FB"/>
<line x1="314.00" y1="1613.56" x2="320.00" y2="1613.56" stroke="#333" stroke-width="1.1"/>
<text x="306.90" y="1621.16" font-size="21.4" text-anchor="end">22 Proliferating UBC progenitors</text>
<rect x="490.50" y="1630.50" width="29.25" height="26.50" fill="#5FD6CA"/>
<rect x="519.75" y="1630.50" width="31.00" height="26.50" fill="#FC83FB"/>
<line x1="314.00" y1="1643.75" x2="320.00" y2="1643.75" stroke="#333" stroke-width="1.1"/>
<text x="306.90" y="1651.35" font-size="21.4" text-anchor="end">21 UBC progenitors</text>
<rect x="446.00" y="1660.69" width="73.75" height="26.50" fill="#5FD6CA"/>
<rect x="519.75" y="1660.69" width="68.75" height="26.50" fill="#FC83FB"/>
<line x1="314.00" y1="1673.94" x2="320.00" y2="1673.94" stroke="#333" stroke-width="1.1"/>
<text x="306.90" y="1681.54" font-size="21.4" text-anchor="end">20 GCs</text>
<rect x="499.25" y="1690.88" width="20.50" height="26.50" fill="#5FD6CA"/>
<rect x="519.75" y="1690.88" width="20.75" height="26.50" fill="#FC83FB"/>
<line x1="314.00" y1="1704.12" x2="320.00" y2="1704.12" stroke="#333" stroke-width="1.1"/>
<text x="306.90" y="1711.72" font-size="21.4" text-anchor="end">19 Proliferating GC progenitors</text>
<rect x="468.00" y="1721.06" width="51.75" height="26.50" fill="#5FD6CA"/>
<rect x="519.75" y="1721.06" width="51.00" height="26.50" fill="#FC83FB"/>
<line x1="314.00" y1="1734.31" x2="320.00" y2="1734.31" stroke="#333" stroke-width="1.1"/>
<text x="306.90" y="1741.91" font-size="21.4" text-anchor="end">18 GC progenitors</text>
<rect x="506.25" y="1751.25" width="13.50" height="26.50" fill="#5FD6CA"/>
<rect x="519.75" y="1751.25" width="12.25" height="26.50" fill="#FC83FB"/>
<line x1="314.00" y1="1764.50" x2="320.00" y2="1764.50" stroke="#333" stroke-width="1.1"/>
<text x="306.90" y="1772.10" font-size="21.4" text-anchor="end">17 RL progenitors</text>
<rect x="508.00" y="1781.44" width="11.75" height="26.50" fill="#5FD6CA"/>
<rect x="519.75" y="1781.44" width="13.75" height="26.50" fill="#FC83FB"/>
<line x1="314.00" y1="1794.69" x2="320.00" y2="1794.69" stroke="#333" stroke-width="1.1"/>
<text x="306.90" y="1802.29" font-size="21.4" text-anchor="end">16 Choroid plexus</text>
<rect x="511.00" y="1811.62" width="8.75" height="26.50" fill="#5FD6CA"/>
<rect x="519.75" y="1811.62" width="8.25" height="26.50" fill="#FC83FB"/>
<line x1="314.00" y1="1824.88" x2="320.00" y2="1824.88" stroke="#333" stroke-width="1.1"/>
<text x="306.90" y="1832.47" font-size="21.4" text-anchor="end">15 RPSCs</text>
<rect x="511.50" y="1841.81" width="8.25" height="26.50" fill="#5FD6CA"/>
<rect x="519.75" y="1841.81" width="8.25" height="26.50" fill="#FC83FB"/>
<line x1="314.00" y1="1855.06" x2="320.00" y2="1855.06" stroke="#333" stroke-width="1.1"/>
<text x="306.90" y="1862.66" font-size="21.4" text-anchor="end">14 Astrocytes</text>
<rect x="488.75" y="1872.00" width="31.00" height="26.50" fill="#5FD6CA"/>
<rect x="519.75" y="1872.00" width="30.25" height="26.50" fill="#FC83FB"/>
<line x1="314.00" y1="1885.25" x2="320.00" y2="1885.25" stroke="#333" stroke-width="1.1"/>
<text x="306.90" y="1892.85" font-size="21.4" text-anchor="end">13 Bergmann glia</text>
<rect x="485.00" y="1902.19" width="34.75" height="26.50" fill="#5FD6CA"/>
<rect x="519.75" y="1902.19" width="32.00" height="26.50" fill="#FC83FB"/>
<line x1="314.00" y1="1915.44" x2="320.00" y2="1915.44" stroke="#333" stroke-width="1.1"/>
<text x="306.90" y="1923.04" font-size="21.4" text-anchor="end">12 Gliogenic progenitors</text>
<rect x="495.50" y="1932.38" width="24.25" height="26.50" fill="#5FD6CA"/>
<rect x="519.75" y="1932.38" width="22.50" height="26.50" fill="#FC83FB"/>
<line x1="314.00" y1="1945.62" x2="320.00" y2="1945.62" stroke="#333" stroke-width="1.1"/>
<text x="306.90" y="1953.22" font-size="21.4" text-anchor="end">11 VZ progenitors</text>
<rect x="515.00" y="1962.56" width="4.75" height="26.50" fill="#5FD6CA"/>
<rect x="519.75" y="1962.56" width="4.25" height="26.50" fill="#FC83FB"/>
<line x1="314.00" y1="1975.81" x2="320.00" y2="1975.81" stroke="#333" stroke-width="1.1"/>
<text x="306.90" y="1983.41" font-size="21.4" text-anchor="end">10 Astrocytes/OPCs</text>
<rect x="518.00" y="1992.75" width="1.75" height="26.50" fill="#5FD6CA"/>
<rect x="519.75" y="1992.75" width="2.25" height="26.50" fill="#FC83FB"/>
<line x1="314.00" y1="2006.00" x2="320.00" y2="2006.00" stroke="#333" stroke-width="1.1"/>
<text x="306.90" y="2013.60" font-size="21.4" text-anchor="end">9 Proliferating NC progenitors</text>
<rect x="517.50" y="2022.94" width="2.25" height="26.50" fill="#5FD6CA"/>
<rect x="519.75" y="2022.94" width="4.50" height="26.50" fill="#FC83FB"/>
<line x1="314.00" y1="2036.19" x2="320.00" y2="2036.19" stroke="#333" stroke-width="1.1"/>
<text x="306.90" y="2043.79" font-size="21.4" text-anchor="end">8 NC progenitors</text>
<rect x="510.75" y="2053.12" width="9.00" height="26.50" fill="#5FD6CA"/>
<rect x="519.75" y="2053.12" width="11.75" height="26.50" fill="#FC83FB"/>
<line x1="314.00" y1="2066.38" x2="320.00" y2="2066.38" stroke="#333" stroke-width="1.1"/>
<text x="306.90" y="2073.97" font-size="21.4" text-anchor="end">7 Pre-NC/RP cells</text>
<rect x="513.50" y="2083.31" width="6.25" height="26.50" fill="#5FD6CA"/>
<rect x="519.75" y="2083.31" width="8.75" height="26.50" fill="#FC83FB"/>
<line x1="314.00" y1="2096.56" x2="320.00" y2="2096.56" stroke="#333" stroke-width="1.1"/>
<text x="306.90" y="2104.16" font-size="21.4" text-anchor="end">6 Neural progenitors</text>
<rect x="509.00" y="2113.50" width="10.75" height="26.50" fill="#5FD6CA"/>
<rect x="519.75" y="2113.50" width="9.75" height="26.50" fill="#FC83FB"/>
<line x1="314.00" y1="2126.75" x2="320.00" y2="2126.75" stroke="#333" stroke-width="1.1"/>
<text x="306.90" y="2134.35" font-size="21.4" text-anchor="end">5 Floor plate progenitors</text>
<rect x="512.50" y="2143.69" width="7.25" height="26.50" fill="#5FD6CA"/>
<rect x="519.75" y="2143.69" width="8.25" height="26.50" fill="#FC83FB"/>
<line x1="314.00" y1="2156.94" x2="320.00" y2="2156.94" stroke="#333" stroke-width="1.1"/>
<text x="306.90" y="2164.54" font-size="21.4" text-anchor="end">4 IsO</text>
<rect x="463.75" y="2173.88" width="56.00" height="26.50" fill="#5FD6CA"/>
<rect x="519.75" y="2173.88" width="56.50" height="26.50" fill="#FC83FB"/>
<line x1="314.00" y1="2187.12" x2="320.00" y2="2187.12" stroke="#333" stroke-width="1.1"/>
<text x="306.90" y="2194.72" font-size="21.4" text-anchor="end">3 Proliferating NSCs</text>
<rect x="463.75" y="2204.06" width="56.00" height="26.50" fill="#5FD6CA"/>
<rect x="519.75" y="2204.06" width="59.75" height="26.50" fill="#FC83FB"/>
<line x1="314.00" y1="2217.31" x2="320.00" y2="2217.31" stroke="#333" stroke-width="1.1"/>
<text x="306.90" y="2224.91" font-size="21.4" text-anchor="end">2 NSCs</text>
<rect x="502.00" y="2234.25" width="17.75" height="26.50" fill="#5FD6CA"/>
<rect x="519.75" y="2234.25" width="23.00" height="26.50" fill="#FC83FB"/>
<line x1="314.00" y1="2247.50" x2="320.00" y2="2247.50" stroke="#333" stroke-width="1.1"/>
<text x="306.90" y="2255.10" font-size="21.4" text-anchor="end">1 NECs</text>
<line x1="320.00" y1="1027.00" x2="320.00" y2="2261.40" stroke="#222" stroke-width="1.4"/>
<line x1="319.40" y1="2261.10" x2="720.40" y2="2261.10" stroke="#222" stroke-width="1.5"/>
<line x1="320.00" y1="2260.80" x2="320.00" y2="2266.80" stroke="#333" stroke-width="1.1"/>
<text x="320.30" y="2301" font-size="21.2" text-anchor="middle" dominant-baseline="central" transform="rotate(-45 320.30 2301)">40000</text>
<line x1="370.00" y1="2260.80" x2="370.00" y2="2266.80" stroke="#333" stroke-width="1.1"/>
<text x="370.30" y="2301" font-size="21.2" text-anchor="middle" dominant-baseline="central" transform="rotate(-45 370.30 2301)">30000</text>
<line x1="420.00" y1="2260.80" x2="420.00" y2="2266.80" stroke="#333" stroke-width="1.1"/>
<text x="420.30" y="2301" font-size="21.2" text-anchor="middle" dominant-baseline="central" transform="rotate(-45 420.30 2301)">20000</text>
<line x1="470.00" y1="2260.80" x2="470.00" y2="2266.80" stroke="#333" stroke-width="1.1"/>
<text x="470.30" y="2301" font-size="21.2" text-anchor="middle" dominant-baseline="central" transform="rotate(-45 470.30 2301)">10000</text>
<line x1="520.00" y1="2260.80" x2="520.00" y2="2266.80" stroke="#333" stroke-width="1.1"/>
<text x="520.30" y="2301" font-size="21.2" text-anchor="middle" dominant-baseline="central" transform="rotate(-45 520.30 2301)">0</text>
<line x1="570.00" y1="2260.80" x2="570.00" y2="2266.80" stroke="#333" stroke-width="1.1"/>
<text x="570.30" y="2301" font-size="21.2" text-anchor="middle" dominant-baseline="central" transform="rotate(-45 570.30 2301)">10000</text>
<line x1="620.00" y1="2260.80" x2="620.00" y2="2266.80" stroke="#333" stroke-width="1.1"/>
<text x="620.30" y="2301" font-size="21.2" text-anchor="middle" dominant-baseline="central" transform="rotate(-45 620.30 2301)">20000</text>
<line x1="670.00" y1="2260.80" x2="670.00" y2="2266.80" stroke="#333" stroke-width="1.1"/>
<text x="670.30" y="2301" font-size="21.2" text-anchor="middle" dominant-baseline="central" transform="rotate(-45 670.30 2301)">30000</text>
<line x1="720.00" y1="2260.80" x2="720.00" y2="2266.80" stroke="#333" stroke-width="1.1"/>
<text x="720.30" y="2301" font-size="21.2" text-anchor="middle" dominant-baseline="central" transform="rotate(-45 720.30 2301)">40000</text>
<text x="529.70" y="2357.00" font-size="21.3" text-anchor="middle">Number of cells per cell type</text>
<text x="712.80" y="1664.50" font-size="21.2">Sex</text>
<rect x="710.40" y="1676.20" width="29.70" height="29.90" fill="#FC83FB"/>
<rect x="710.40" y="1713.30" width="29.70" height="30.20" fill="#5FD6CA"/>
<text x="743.80" y="1703.90" font-size="21.2">Female</text>
<text x="743.80" y="1736.60" font-size="21.2">Male</text>
</g>
<g id="panel-c">
<text x="860.00" y="1056.40" font-size="32" font-weight="bold">c</text>
<text x="1557.30" y="1053.60" font-size="29.8" text-anchor="middle">Male and female combined: cell fraction of cell type per time point</text>
<defs><clipPath id="clip1"><rect x="961.50" y="1067.80" width="1155.50" height="431.00"/></clipPath><filter id="blur1" filterUnits="userSpaceOnUse" x="922" y="1028" width="1236" height="511"><feGaussianBlur stdDeviation="4.5"/></filter></defs>
<g clip-path="url(#clip1)">
<path d="M961.5 1067.8 L1126.6 1067.8 L1291.6 1067.8 L1456.7 1067.8 L1621.8 1067.8 L1786.9 1067.8 L1951.9 1067.8 L2117.0 1067.8 L2117.0 1498.8 L961.5 1498.8Z" fill="#C42C93"/>
<path d="M961.5 1077.8 L1126.6 1078.8 L1291.6 1070.0 L1456.7 1069.5 L1621.8 1069.5 L1786.9 1073.1 L1951.9 1072.5 L2117.0 1070.6 L2117.0 1498.8 L961.5 1498.8Z" fill="#B3C8B2"/>
<path d="M961.5 1079.3 L1126.6 1079.9 L1291.6 1072.1 L1456.7 1073.6 L1621.8 1074.7 L1786.9 1077.3 L1951.9 1075.6 L2117.0 1076.4 L2117.0 1498.8 L961.5 1498.8Z" fill="#9790FA"/>
<path d="M961.5 1079.3 L1126.6 1079.9 L1291.6 1072.1 L1456.7 1073.6 L1621.8 1074.7 L1786.9 1079.0 L1951.9 1077.3 L2117.0 1077.7 L2117.0 1498.8 L961.5 1498.8Z" fill="#C890F6"/>
<path d="M961.5 1090.9 L1126.6 1082.5 L1291.6 1072.1 L1456.7 1073.6 L1621.8 1074.7 L1786.9 1080.4 L1951.9 1078.3 L2117.0 1079.2 L2117.0 1498.8 L961.5 1498.8Z" fill="#E1C7FA"/>
<path d="M961.5 1119.1 L1126.6 1090.3 L1291.6 1072.1 L1456.7 1073.6 L1621.8 1074.7 L1786.9 1080.4 L1951.9 1078.3 L2117.0 1079.2 L2117.0 1498.8 L961.5 1498.8Z" fill="#B5BEFB"/>
<path d="M961.5 1119.1 L1126.6 1090.3 L1291.6 1072.1 L1456.7 1073.6 L1621.8 1074.7 L1786.9 1084.6 L1951.9 1081.4 L2117.0 1082.9 L2117.0 1498.8 L961.5 1498.8Z" fill="#E26FF7"/>
<path d="M931.5 1166.8 L961.5 1166.8 L1126.6 1148.8 L1291.6 1088.1 L1456.7 1081.4 L1621.8 1094.5 L1786.9 1103.4 L1951.9 1085.6 L2117.0 1091.8 L2147.0 1091.8 L2147.0 1091.8 L2117.0 1091.8 L1951.9 1085.6 L1786.9 1103.4 L1621.8 1094.5 L1456.7 1081.4 L1291.6 1088.1 L1126.6 1160.7 L961.5 1230.1 L931.5 1230.1Z" fill="#C27DF9" filter="url(#blur1)"/>
<path d="M961.5 1216.6 L1126.6 1153.6 L1291.6 1088.1 L1456.7 1081.4 L1621.8 1094.5 L1786.9 1103.4 L1951.9 1085.6 L2117.0 1091.8 L2117.0 1498.8 L961.5 1498.8Z" fill="#A02A70"/>
<path d="M961.5 1217.1 L1126.6 1154.2 L1291.6 1089.3 L1456.7 1086.2 L1621.8 1095.6 L1786.9 1104.0 L1951.9 1085.6 L2117.0 1091.8 L2117.0 1498.8 L961.5 1498.8Z" fill="#83BA28"/>
<path d="M961.5 1217.1 L1126.6 1155.5 L1291.6 1093.5 L1456.7 1089.8 L1621.8 1096.2 L1786.9 1104.9 L1951.9 1085.6 L2117.0 1091.8 L2117.0 1498.8 L961.5 1498.8Z" fill="#A3E9AC"/>
<path d="M961.5 1217.1 L1126.6 1157.0 L1291.6 1100.3 L1456.7 1094.1 L1621.8 1098.0 L1786.9 1104.9 L1951.9 1085.6 L2117.0 1091.8 L2117.0 1498.8 L961.5 1498.8Z" fill="#80FBD3"/>
<path d="M961.5 1217.1 L1126.6 1158.4 L1291.6 1109.2 L1456.7 1107.1 L1621.8 1100.3 L1786.9 1104.9 L1951.9 1085.6 L2117.0 1091.8 L2117.0 1498.8 L961.5 1498.8Z" fill="#BCE7F9"/>
<path d="M961.5 1227.1 L1126.6 1182.0 L1291.6 1134.6 L1456.7 1131.7 L1621.8 1104.4 L1786.9 1105.5 L1951.9 1085.6 L2117.0 1091.8 L2117.0 1498.8 L961.5 1498.8Z" fill="#6CE9DD"/>
<path d="M961.5 1227.1 L1126.6 1182.0 L1291.6 1135.9 L1456.7 1135.4 L1621.8 1116.1 L1786.9 1210.9 L1951.9 1138.0 L2117.0 1118.1 L2117.0 1498.8 L961.5 1498.8Z" fill="#5BB4FB"/>
<filter id="blur1k26" filterUnits="userSpaceOnUse" x="922" y="1028" width="1236" height="511"><feGaussianBlur stdDeviation="2.70"/></filter>
<path d="M931.5 1231.8 L961.5 1231.8 L1126.6 1200.4 L1291.6 1242.4 L1456.7 1308.8 L1621.8 1252.3 L1786.9 1309.6 L1951.9 1192.5 L2117.0 1158.1 L2147.0 1158.1 L2147.0 1158.1 L2117.0 1158.1 L1951.9 1192.5 L1786.9 1311.9 L1621.8 1257.7 L1456.7 1323.8 L1291.6 1260.9 L1126.6 1210.8 L961.5 1234.5 L931.5 1234.5Z" fill="#7F9DFB" filter="url(#blur1k26)"/>
<path d="M961.5 1232.9 L1126.6 1204.6 L1291.6 1252.8 L1456.7 1315.7 L1621.8 1254.4 L1786.9 1310.5 L1951.9 1192.5 L2117.0 1158.1 L2117.0 1498.8 L961.5 1498.8Z" fill="#48D43C"/>
<path d="M961.5 1232.9 L1126.6 1208.7 L1291.6 1312.2 L1456.7 1392.8 L1621.8 1351.7 L1786.9 1362.0 L1951.9 1200.9 L2117.0 1171.3 L2117.0 1498.8 L961.5 1498.8Z" fill="#5FD9A5"/>
<path d="M961.5 1240.2 L1126.6 1229.2 L1291.6 1338.0 L1456.7 1406.0 L1621.8 1360.0 L1786.9 1366.5 L1951.9 1200.9 L2117.0 1171.3 L2117.0 1498.8 L961.5 1498.8Z" fill="#6CEC70"/>
<path d="M961.5 1240.2 L1126.6 1229.2 L1291.6 1338.0 L1456.7 1406.0 L1621.8 1360.9 L1786.9 1370.5 L1951.9 1220.3 L2117.0 1201.6 L2117.0 1498.8 L961.5 1498.8Z" fill="#5DD895"/>
<filter id="blur1k21" filterUnits="userSpaceOnUse" x="922" y="1028" width="1236" height="511"><feGaussianBlur stdDeviation="3.15"/></filter>
<path d="M931.5 1240.2 L961.5 1240.2 L1126.6 1229.2 L1291.6 1338.0 L1456.7 1406.0 L1621.8 1363.0 L1786.9 1375.1 L1951.9 1243.3 L2117.0 1218.7 L2147.0 1218.7 L2147.0 1265.9 L2117.0 1265.9 L1951.9 1288.0 L1786.9 1393.1 L1621.8 1370.6 L1456.7 1406.0 L1291.6 1338.0 L1126.6 1229.2 L961.5 1240.2 L931.5 1240.2Z" fill="#5FD9B2" filter="url(#blur1k21)"/>
<path d="M961.5 1240.2 L1126.6 1229.2 L1291.6 1338.0 L1456.7 1406.0 L1621.8 1366.1 L1786.9 1383.7 L1951.9 1278.5 L2117.0 1256.5 L2117.0 1498.8 L961.5 1498.8Z" fill="#93EB9C"/>
<path d="M961.5 1240.2 L1126.6 1229.2 L1291.6 1338.0 L1456.7 1406.0 L1621.8 1367.7 L1786.9 1406.0 L1951.9 1355.7 L2117.0 1351.1 L2117.0 1498.8 L961.5 1498.8Z" fill="#8BFD8B"/>
<path d="M961.5 1240.2 L1126.6 1229.2 L1291.6 1338.0 L1456.7 1406.0 L1621.8 1367.7 L1786.9 1412.8 L1951.9 1382.0 L2117.0 1377.3 L2117.0 1498.8 L961.5 1498.8Z" fill="#ABD157"/>
<path d="M961.5 1240.2 L1126.6 1229.2 L1291.6 1338.0 L1456.7 1406.0 L1621.8 1369.4 L1786.9 1438.9 L1951.9 1440.8 L2117.0 1434.1 L2117.0 1498.8 L961.5 1498.8Z" fill="#BDEC7C"/>
<path d="M961.5 1244.9 L1126.6 1238.1 L1291.6 1344.2 L1456.7 1414.0 L1621.8 1378.6 L1786.9 1443.5 L1951.9 1443.1 L2117.0 1434.5 L2117.0 1498.8 L961.5 1498.8Z" fill="#F569F5"/>
<path d="M961.5 1244.9 L1126.6 1238.1 L1291.6 1344.2 L1456.7 1414.0 L1621.8 1391.7 L1786.9 1451.4 L1951.9 1448.8 L2117.0 1440.2 L2117.0 1498.8 L961.5 1498.8Z" fill="#FB43F7"/>
<path d="M961.5 1252.3 L1126.6 1254.9 L1291.6 1349.9 L1456.7 1417.4 L1621.8 1396.3 L1786.9 1452.9 L1951.9 1449.4 L2117.0 1440.8 L2117.0 1498.8 L961.5 1498.8Z" fill="#F5398F"/>
<path d="M961.5 1252.3 L1126.6 1254.9 L1291.6 1349.9 L1456.7 1417.4 L1621.8 1396.3 L1786.9 1459.1 L1951.9 1455.7 L2117.0 1450.5 L2117.0 1498.8 L961.5 1498.8Z" fill="#EC70F6"/>
<path d="M961.5 1252.3 L1126.6 1254.9 L1291.6 1359.1 L1456.7 1427.1 L1621.8 1406.5 L1786.9 1475.1 L1951.9 1476.3 L2117.0 1475.7 L2117.0 1498.8 L961.5 1498.8Z" fill="#EDACAE"/>
<path d="M961.5 1255.9 L1126.6 1268.0 L1291.6 1389.4 L1456.7 1450.6 L1621.8 1432.3 L1786.9 1483.5 L1951.9 1484.3 L2117.0 1479.1 L2117.0 1498.8 L961.5 1498.8Z" fill="#F867C5"/>
<path d="M961.5 1255.9 L1126.6 1270.4 L1291.6 1398.5 L1456.7 1464.8 L1621.8 1452.9 L1786.9 1491.7 L1951.9 1492.9 L2117.0 1486.9 L2117.0 1498.8 L961.5 1498.8Z" fill="#B31BF7"/>
<path d="M961.5 1255.9 L1126.6 1270.4 L1291.6 1398.5 L1456.7 1464.8 L1621.8 1453.8 L1786.9 1493.4 L1951.9 1494.6 L2117.0 1494.6 L2117.0 1498.8 L961.5 1498.8Z" fill="#AEB045"/>
<path d="M961.5 1257.0 L1126.6 1272.7 L1291.6 1398.5 L1456.7 1464.8 L1621.8 1453.8 L1786.9 1493.4 L1951.9 1494.6 L2117.0 1494.6 L2117.0 1498.8 L961.5 1498.8Z" fill="#EF7470"/>
<path d="M961.5 1268.5 L1126.6 1275.6 L1291.6 1400.3 L1456.7 1466.6 L1621.8 1453.8 L1786.9 1493.4 L1951.9 1494.6 L2117.0 1494.6 L2117.0 1498.8 L961.5 1498.8Z" fill="#F766A5"/>
<path d="M961.5 1287.1 L1126.6 1299.1 L1291.6 1400.3 L1456.7 1466.6 L1621.8 1453.8 L1786.9 1493.4 L1951.9 1494.6 L2117.0 1494.6 L2117.0 1498.8 L961.5 1498.8Z" fill="#EBC88F"/>
<filter id="blur1k5" filterUnits="userSpaceOnUse" x="922" y="1028" width="1236" height="511"><feGaussianBlur stdDeviation="2.70"/></filter>
<path d="M931.5 1313.9 L961.5 1313.9 L1126.6 1302.7 L1291.6 1404.0 L1456.7 1466.6 L1621.8 1453.8 L1786.9 1493.4 L1951.9 1494.6 L2117.0 1494.6 L2147.0 1494.6 L2147.0 1494.6 L2117.0 1494.6 L1951.9 1494.6 L1786.9 1493.4 L1621.8 1458.6 L1456.7 1475.0 L1291.6 1418.1 L1126.6 1328.3 L961.5 1331.7 L931.5 1331.7Z" fill="#ECB96B" filter="url(#blur1k5)"/>
<path d="M961.5 1323.6 L1126.6 1320.2 L1291.6 1410.0 L1456.7 1469.9 L1621.8 1455.7 L1786.9 1493.4 L1951.9 1494.6 L2117.0 1494.6 L2117.0 1498.8 L961.5 1498.8Z" fill="#EBCF43"/>
<path d="M961.5 1342.9 L1126.6 1323.1 L1291.6 1412.3 L1456.7 1471.7 L1621.8 1458.5 L1786.9 1493.4 L1951.9 1494.6 L2117.0 1494.6 L2117.0 1498.8 L961.5 1498.8Z" fill="#DE8234"/>
<path d="M931.5 1367.1 L961.5 1367.1 L1126.6 1404.8 L1291.6 1458.5 L1456.7 1484.8 L1621.8 1481.4 L1786.9 1496.6 L1951.9 1496.6 L2117.0 1496.6 L2147.0 1496.6 L2147.0 1502.0 L2117.0 1502.0 L1951.9 1502.0 L1786.9 1502.0 L1621.8 1512.3 L1456.7 1512.3 L1291.6 1511.9 L1126.6 1506.1 L961.5 1437.2 L931.5 1437.2Z" fill="#F18024" filter="url(#blur1)"/>
<path d="M961.5 1423.7 L1126.6 1492.6 L1291.6 1498.4 L1456.7 1498.8 L1621.8 1498.8 L1786.9 1498.8 L1951.9 1498.8 L2117.0 1498.8 L2117.0 1498.8 L961.5 1498.8Z" fill="#EE909A"/>
</g>
<text x="885.70" y="1316.00" font-size="29.5" text-anchor="middle" transform="rotate(-90 885.70 1316.00)">Cell fraction</text>
<line x1="955.50" y1="1067.80" x2="961.50" y2="1067.80" stroke="#333" stroke-width="1.1"/>
<text x="953.20" y="1083.40" font-size="30" text-anchor="end">1.00</text>
<line x1="955.50" y1="1175.55" x2="961.50" y2="1175.55" stroke="#333" stroke-width="1.1"/>
<text x="953.20" y="1186.80" font-size="30" text-anchor="end">0.75</text>
<line x1="955.50" y1="1283.30" x2="961.50" y2="1283.30" stroke="#333" stroke-width="1.1"/>
<text x="953.20" y="1294.00" font-size="30" text-anchor="end">0.50</text>
<line x1="955.50" y1="1391.05" x2="961.50" y2="1391.05" stroke="#333" stroke-width="1.1"/>
<text x="953.20" y="1401.50" font-size="30" text-anchor="end">0.25</text>
<line x1="955.50" y1="1498.80" x2="961.50" y2="1498.80" stroke="#333" stroke-width="1.1"/>
<text x="953.20" y="1510.10" font-size="30" text-anchor="end">0.00</text>
<line x1="961.50" y1="1498.80" x2="961.50" y2="1504.30" stroke="#333" stroke-width="1.1"/>
<text x="958.40" y="1539.30" font-size="30" text-anchor="middle">E9</text>
<line x1="1126.57" y1="1498.80" x2="1126.57" y2="1504.30" stroke="#333" stroke-width="1.1"/>
<text x="1120.40" y="1539.30" font-size="30" text-anchor="middle">E10</text>
<line x1="1291.64" y1="1498.80" x2="1291.64" y2="1504.30" stroke="#333" stroke-width="1.1"/>
<text x="1283.80" y="1539.30" font-size="30" text-anchor="middle">E11</text>
<line x1="1456.71" y1="1498.80" x2="1456.71" y2="1504.30" stroke="#333" stroke-width="1.1"/>
<text x="1450.50" y="1539.30" font-size="30" text-anchor="middle">E12</text>
<line x1="1621.79" y1="1498.80" x2="1621.79" y2="1504.30" stroke="#333" stroke-width="1.1"/>
<text x="1615.60" y="1539.30" font-size="30" text-anchor="middle">E13</text>
<line x1="1786.86" y1="1498.80" x2="1786.86" y2="1504.30" stroke="#333" stroke-width="1.1"/>
<text x="1780.90" y="1539.30" font-size="30" text-anchor="middle">E14</text>
<line x1="1951.93" y1="1498.80" x2="1951.93" y2="1504.30" stroke="#333" stroke-width="1.1"/>
<text x="1946.00" y="1539.30" font-size="30" text-anchor="middle">E16</text>
<line x1="2117.00" y1="1498.80" x2="2117.00" y2="1504.30" stroke="#333" stroke-width="1.1"/>
<text x="2106.50" y="1539.30" font-size="30" text-anchor="middle">E18</text>
<text x="981.50" y="1092.90" font-size="20.5" text-anchor="middle">38</text>
<text x="981.50" y="1114.30" font-size="20.5" text-anchor="middle">37</text>
<text x="1007.60" y="1155.20" font-size="20.5" text-anchor="middle">35</text>
<text x="1007.60" y="1190.30" font-size="20.5" text-anchor="middle">34</text>
<text x="1120.90" y="1241.10" font-size="20.5" text-anchor="middle">17</text>
<text x="1086.40" y="1255.10" font-size="20.5" text-anchor="middle">15</text>
<text x="972.00" y="1269.90" font-size="20.5" text-anchor="middle">8</text>
<text x="1008.60" y="1270.40" font-size="20.5" text-anchor="middle">9</text>
<text x="1020.00" y="1290.40" font-size="20.5" text-anchor="middle">7</text>
<text x="990.90" y="1309.50" font-size="20.5" text-anchor="middle">6</text>
<text x="1120.60" y="1319.60" font-size="20.5" text-anchor="middle">5</text>
<text x="980.60" y="1339.60" font-size="20.5" text-anchor="middle">4</text>
<text x="1119.70" y="1380.40" font-size="20.5" text-anchor="middle">3</text>
<text x="1077.10" y="1439.80" font-size="20.5" text-anchor="middle">2</text>
<text x="1001.10" y="1482.80" font-size="20.5" text-anchor="middle">1</text>
<text x="1293.80" y="1104.10" font-size="20.5" text-anchor="middle">32</text>
<text x="1359.80" y="1102.00" font-size="20.5" text-anchor="middle">31</text>
<text x="1295.90" y="1131.80" font-size="20.5" text-anchor="middle">29</text>
<text x="1299.00" y="1262.60" font-size="20.5" text-anchor="middle">26</text>
<text x="1299.20" y="1299.90" font-size="20.5" text-anchor="middle">25</text>
<text x="1298.30" y="1333.90" font-size="20.5" text-anchor="middle">24</text>
<text x="1458.60" y="1088.60" font-size="20.5" text-anchor="middle">33</text>
<text x="1445.50" y="1108.30" font-size="20.5" text-anchor="middle">30</text>
<text x="1456.40" y="1226.90" font-size="20.5" text-anchor="middle">27</text>
<text x="1548.30" y="1436.70" font-size="20.5" text-anchor="middle">12</text>
<text x="1528.40" y="1458.40" font-size="20.5" text-anchor="middle">11</text>
<text x="1794.70" y="1086.00" font-size="20.5" text-anchor="middle">39</text>
<text x="1784.90" y="1164.90" font-size="20.5" text-anchor="middle">28</text>
<text x="1812.10" y="1431.40" font-size="20.5" text-anchor="middle">18</text>
<text x="1961.80" y="1216.50" font-size="20.5" text-anchor="middle">23</text>
<text x="1959.30" y="1239.50" font-size="20.5" text-anchor="middle">22</text>
<text x="1961.80" y="1269.90" font-size="20.5" text-anchor="middle">21</text>
<text x="1965.70" y="1340.20" font-size="20.5" text-anchor="middle">20</text>
<text x="1963.80" y="1376.70" font-size="20.5" text-anchor="middle">19</text>
<text x="1969.70" y="1473.00" font-size="20.5" text-anchor="middle">13</text>
<line x1="2117.00" y1="1068.00" x2="2130.70" y2="1074.30" stroke="#111" stroke-width="1.1"/>
<text x="2131.10" y="1083.10" font-size="20.5">41</text>
<line x1="2117.00" y1="1073.20" x2="2130.70" y2="1097.70" stroke="#111" stroke-width="1.1"/>
<text x="2131.10" y="1108.90" font-size="20.5">40</text>
<line x1="2117.00" y1="1080.60" x2="2131.20" y2="1126.90" stroke="#111" stroke-width="1.1"/>
<text x="2131.10" y="1134.60" font-size="20.5">36</text>
<line x1="2117.00" y1="1437.50" x2="2132.40" y2="1427.20" stroke="#111" stroke-width="1.1"/>
<text x="2132.30" y="1430.90" font-size="20.5">16</text>
<line x1="2117.00" y1="1446.00" x2="2132.20" y2="1445.50" stroke="#111" stroke-width="1.1"/>
<text x="2132.30" y="1452.60" font-size="20.5">14</text>
<line x1="2117.00" y1="1490.60" x2="2133.50" y2="1482.60" stroke="#111" stroke-width="1.1"/>
<text x="2133.40" y="1486.90" font-size="20.5">10</text>
<text x="1229.70" y="1601.00" font-size="25.5" text-anchor="middle">Male: Cell fraction of cell type per time point</text>
<defs><clipPath id="clip2"><rect x="966.20" y="1607.80" width="525.00" height="195.60"/></clipPath><filter id="blur2" filterUnits="userSpaceOnUse" x="926" y="1568" width="605" height="276"><feGaussianBlur stdDeviation="2.2"/></filter></defs>
<g clip-path="url(#clip2)">
<path d="M966.2 1607.8 L1041.2 1607.8 L1116.2 1607.8 L1191.2 1607.8 L1266.2 1607.8 L1341.2 1607.8 L1416.2 1607.8 L1491.2 1607.8 L1491.2 1803.4 L966.2 1803.4Z" fill="#C42C93"/>
<path d="M966.2 1612.3 L1041.2 1611.7 L1116.2 1609.2 L1191.2 1609.0 L1266.2 1609.0 L1341.2 1610.7 L1416.2 1610.3 L1491.2 1610.1 L1491.2 1803.4 L966.2 1803.4Z" fill="#B3C8B2"/>
<path d="M966.2 1613.3 L1041.2 1612.5 L1116.2 1610.7 L1191.2 1610.7 L1266.2 1611.7 L1341.2 1612.5 L1416.2 1611.5 L1491.2 1612.3 L1491.2 1803.4 L966.2 1803.4Z" fill="#9790FA"/>
<path d="M966.2 1613.3 L1041.2 1612.5 L1116.2 1610.7 L1191.2 1610.7 L1266.2 1611.7 L1341.2 1613.3 L1416.2 1612.1 L1491.2 1613.1 L1491.2 1803.4 L966.2 1803.4Z" fill="#C890F6"/>
<path d="M966.2 1619.5 L1041.2 1615.0 L1116.2 1610.7 L1191.2 1610.7 L1266.2 1611.7 L1341.2 1614.1 L1416.2 1612.7 L1491.2 1614.1 L1491.2 1803.4 L966.2 1803.4Z" fill="#E1C7FA"/>
<path d="M966.2 1630.9 L1041.2 1617.6 L1116.2 1610.7 L1191.2 1610.7 L1266.2 1611.7 L1341.2 1614.1 L1416.2 1612.7 L1491.2 1614.1 L1491.2 1803.4 L966.2 1803.4Z" fill="#B5BEFB"/>
<path d="M966.2 1630.9 L1041.2 1617.6 L1116.2 1610.7 L1191.2 1610.7 L1266.2 1611.7 L1341.2 1615.8 L1416.2 1614.1 L1491.2 1615.8 L1491.2 1803.4 L966.2 1803.4Z" fill="#E26FF7"/>
<path d="M936.2 1658.7 L966.2 1658.7 L1041.2 1638.1 L1116.2 1617.2 L1191.2 1615.0 L1266.2 1618.4 L1341.2 1626.0 L1416.2 1615.4 L1491.2 1620.1 L1521.2 1620.1 L1521.2 1620.1 L1491.2 1620.1 L1416.2 1615.4 L1341.2 1626.0 L1266.2 1618.4 L1191.2 1615.0 L1116.2 1617.2 L1041.2 1644.0 L966.2 1681.3 L936.2 1681.3Z" fill="#C27DF9" filter="url(#blur2)"/>
<path d="M966.2 1674.7 L1041.2 1640.5 L1116.2 1617.2 L1191.2 1615.0 L1266.2 1618.4 L1341.2 1626.0 L1416.2 1615.4 L1491.2 1620.1 L1491.2 1803.4 L966.2 1803.4Z" fill="#A02A70"/>
<path d="M966.2 1675.1 L1041.2 1640.7 L1116.2 1618.4 L1191.2 1616.6 L1266.2 1618.8 L1341.2 1626.2 L1416.2 1615.4 L1491.2 1620.1 L1491.2 1803.4 L966.2 1803.4Z" fill="#83BA28"/>
<path d="M966.2 1675.1 L1041.2 1641.1 L1116.2 1619.9 L1191.2 1618.0 L1266.2 1618.9 L1341.2 1626.6 L1416.2 1615.4 L1491.2 1620.1 L1491.2 1803.4 L966.2 1803.4Z" fill="#A3E9AC"/>
<path d="M966.2 1675.1 L1041.2 1641.6 L1116.2 1622.7 L1191.2 1620.1 L1266.2 1619.5 L1341.2 1626.6 L1416.2 1615.4 L1491.2 1620.1 L1491.2 1803.4 L966.2 1803.4Z" fill="#80FBD3"/>
<path d="M966.2 1675.1 L1041.2 1642.2 L1116.2 1628.5 L1191.2 1626.0 L1266.2 1620.5 L1341.2 1626.6 L1416.2 1615.4 L1491.2 1620.1 L1491.2 1803.4 L966.2 1803.4Z" fill="#BCE7F9"/>
<path d="M966.2 1680.8 L1041.2 1654.2 L1116.2 1640.5 L1191.2 1635.6 L1266.2 1621.9 L1341.2 1627.0 L1416.2 1615.4 L1491.2 1620.1 L1491.2 1803.4 L966.2 1803.4Z" fill="#6CE9DD"/>
<path d="M966.2 1680.8 L1041.2 1654.2 L1116.2 1641.1 L1191.2 1636.6 L1266.2 1627.0 L1341.2 1674.7 L1416.2 1639.7 L1491.2 1632.8 L1491.2 1803.4 L966.2 1803.4Z" fill="#5BB4FB"/>
<filter id="blur2k26" filterUnits="userSpaceOnUse" x="926" y="1568" width="605" height="276"><feGaussianBlur stdDeviation="1.32"/></filter>
<path d="M936.2 1681.9 L966.2 1681.9 L1041.2 1662.6 L1116.2 1698.6 L1191.2 1717.3 L1266.2 1692.7 L1341.2 1717.7 L1416.2 1662.8 L1491.2 1652.0 L1521.2 1652.0 L1521.2 1652.0 L1491.2 1652.0 L1416.2 1662.8 L1341.2 1718.7 L1266.2 1694.6 L1191.2 1720.3 L1116.2 1704.9 L1041.2 1666.0 L966.2 1683.4 L936.2 1683.4Z" fill="#7F9DFB" filter="url(#blur2k26)"/>
<path d="M966.2 1682.5 L1041.2 1663.9 L1116.2 1701.1 L1191.2 1718.5 L1266.2 1693.5 L1341.2 1718.1 L1416.2 1662.8 L1491.2 1652.0 L1491.2 1803.4 L966.2 1803.4Z" fill="#48D43C"/>
<path d="M966.2 1682.5 L1041.2 1667.1 L1116.2 1726.7 L1191.2 1754.9 L1266.2 1736.1 L1341.2 1744.7 L1416.2 1666.5 L1491.2 1658.5 L1491.2 1803.4 L966.2 1803.4Z" fill="#5FD9A5"/>
<path d="M966.2 1688.0 L1041.2 1675.5 L1116.2 1737.7 L1191.2 1760.8 L1266.2 1738.9 L1341.2 1746.1 L1416.2 1666.5 L1491.2 1658.5 L1491.2 1803.4 L966.2 1803.4Z" fill="#6CEC70"/>
<path d="M966.2 1688.0 L1041.2 1675.5 L1116.2 1737.7 L1191.2 1760.8 L1266.2 1739.8 L1341.2 1747.7 L1416.2 1674.7 L1491.2 1672.9 L1491.2 1803.4 L966.2 1803.4Z" fill="#5DD895"/>
<filter id="blur2k21" filterUnits="userSpaceOnUse" x="926" y="1568" width="605" height="276"><feGaussianBlur stdDeviation="1.54"/></filter>
<path d="M936.2 1688.0 L966.2 1688.0 L1041.2 1675.5 L1116.2 1737.7 L1191.2 1760.8 L1266.2 1740.8 L1341.2 1749.6 L1416.2 1686.0 L1491.2 1680.6 L1521.2 1680.6 L1521.2 1699.7 L1491.2 1699.7 L1416.2 1705.7 L1341.2 1758.1 L1266.2 1745.7 L1191.2 1760.8 L1116.2 1737.7 L1041.2 1675.5 L966.2 1688.0 L936.2 1688.0Z" fill="#5FD9B2" filter="url(#blur2k21)"/>
<path d="M966.2 1688.0 L1041.2 1675.5 L1116.2 1737.7 L1191.2 1760.8 L1266.2 1742.8 L1341.2 1753.5 L1416.2 1701.1 L1491.2 1695.0 L1491.2 1803.4 L966.2 1803.4Z" fill="#93EB9C"/>
<path d="M966.2 1688.0 L1041.2 1675.5 L1116.2 1737.7 L1191.2 1760.8 L1266.2 1743.7 L1341.2 1764.3 L1416.2 1738.9 L1491.2 1739.4 L1491.2 1803.4 L966.2 1803.4Z" fill="#8BFD8B"/>
<path d="M966.2 1688.0 L1041.2 1675.5 L1116.2 1737.7 L1191.2 1760.8 L1266.2 1743.7 L1341.2 1767.6 L1416.2 1750.6 L1491.2 1749.6 L1491.2 1803.4 L966.2 1803.4Z" fill="#ABD157"/>
<path d="M966.2 1688.0 L1041.2 1675.5 L1116.2 1737.7 L1191.2 1760.8 L1266.2 1744.7 L1341.2 1778.4 L1416.2 1778.4 L1491.2 1774.6 L1491.2 1803.4 L966.2 1803.4Z" fill="#BDEC7C"/>
<path d="M966.2 1689.0 L1041.2 1679.8 L1116.2 1742.0 L1191.2 1764.5 L1266.2 1749.2 L1341.2 1780.3 L1416.2 1779.1 L1491.2 1774.8 L1491.2 1803.4 L966.2 1803.4Z" fill="#F569F5"/>
<path d="M966.2 1689.0 L1041.2 1679.8 L1116.2 1742.0 L1191.2 1764.5 L1266.2 1752.9 L1341.2 1784.6 L1416.2 1781.7 L1491.2 1777.4 L1491.2 1803.4 L966.2 1803.4Z" fill="#FB43F7"/>
<path d="M966.2 1693.5 L1041.2 1688.4 L1116.2 1744.7 L1191.2 1766.2 L1266.2 1754.9 L1341.2 1785.4 L1416.2 1782.1 L1491.2 1777.8 L1491.2 1803.4 L966.2 1803.4Z" fill="#F5398F"/>
<path d="M966.2 1693.5 L1041.2 1688.4 L1116.2 1744.7 L1191.2 1766.2 L1266.2 1754.9 L1341.2 1788.1 L1416.2 1784.6 L1491.2 1782.1 L1491.2 1803.4 L966.2 1803.4Z" fill="#EC70F6"/>
<path d="M966.2 1693.5 L1041.2 1688.4 L1116.2 1748.0 L1191.2 1770.9 L1266.2 1760.4 L1341.2 1794.8 L1416.2 1795.8 L1491.2 1793.2 L1491.2 1803.4 L966.2 1803.4Z" fill="#EDACAE"/>
<path d="M966.2 1694.6 L1041.2 1693.5 L1116.2 1760.8 L1191.2 1782.9 L1266.2 1773.1 L1341.2 1798.7 L1416.2 1799.1 L1491.2 1794.8 L1491.2 1803.4 L966.2 1803.4Z" fill="#F867C5"/>
<path d="M966.2 1694.6 L1041.2 1694.3 L1116.2 1765.1 L1191.2 1788.3 L1266.2 1783.4 L1341.2 1801.4 L1416.2 1801.8 L1491.2 1798.7 L1491.2 1803.4 L966.2 1803.4Z" fill="#B31BF7"/>
<path d="M966.2 1694.6 L1041.2 1694.3 L1116.2 1765.1 L1191.2 1788.3 L1266.2 1783.8 L1341.2 1802.2 L1416.2 1802.6 L1491.2 1802.6 L1491.2 1803.4 L966.2 1803.4Z" fill="#AEB045"/>
<path d="M966.2 1695.2 L1041.2 1695.2 L1116.2 1765.1 L1191.2 1788.3 L1266.2 1783.8 L1341.2 1802.2 L1416.2 1802.6 L1491.2 1802.6 L1491.2 1803.4 L966.2 1803.4Z" fill="#EF7470"/>
<path d="M966.2 1697.0 L1041.2 1696.8 L1116.2 1766.8 L1191.2 1788.9 L1266.2 1783.8 L1341.2 1802.2 L1416.2 1802.6 L1491.2 1802.6 L1491.2 1803.4 L966.2 1803.4Z" fill="#F766A5"/>
<path d="M966.2 1707.8 L1041.2 1707.9 L1116.2 1766.8 L1191.2 1788.9 L1266.2 1783.8 L1341.2 1802.2 L1416.2 1802.6 L1491.2 1802.6 L1491.2 1803.4 L966.2 1803.4Z" fill="#EBC88F"/>
<filter id="blur2k5" filterUnits="userSpaceOnUse" x="926" y="1568" width="605" height="276"><feGaussianBlur stdDeviation="1.32"/></filter>
<path d="M936.2 1720.9 L966.2 1720.9 L1041.2 1709.5 L1116.2 1766.8 L1191.2 1788.9 L1266.2 1783.8 L1341.2 1802.2 L1416.2 1802.6 L1491.2 1802.6 L1521.2 1802.6 L1521.2 1802.6 L1491.2 1802.6 L1416.2 1802.6 L1341.2 1802.2 L1266.2 1786.3 L1191.2 1793.3 L1116.2 1772.7 L1041.2 1721.3 L966.2 1729.9 L936.2 1729.9Z" fill="#ECB96B" filter="url(#blur2k5)"/>
<path d="M966.2 1725.9 L1041.2 1717.3 L1116.2 1769.2 L1191.2 1790.7 L1266.2 1784.8 L1341.2 1802.2 L1416.2 1802.6 L1491.2 1802.6 L1491.2 1803.4 L966.2 1803.4Z" fill="#EBCF43"/>
<path d="M966.2 1733.6 L1041.2 1720.3 L1116.2 1770.1 L1191.2 1791.5 L1266.2 1786.0 L1341.2 1802.2 L1416.2 1802.6 L1491.2 1802.6 L1491.2 1803.4 L966.2 1803.4Z" fill="#DE8234"/>
<path d="M936.2 1743.7 L966.2 1743.7 L1041.2 1760.4 L1116.2 1788.1 L1191.2 1796.6 L1266.2 1795.6 L1341.2 1802.8 L1416.2 1803.0 L1491.2 1803.0 L1521.2 1803.0 L1521.2 1804.0 L1491.2 1804.0 L1416.2 1804.0 L1341.2 1804.3 L1266.2 1810.0 L1191.2 1810.0 L1116.2 1810.0 L1041.2 1809.0 L966.2 1774.2 L936.2 1774.2Z" fill="#F18024" filter="url(#blur2)"/>
<path d="M966.2 1767.6 L1041.2 1802.4 L1116.2 1803.4 L1191.2 1803.4 L1266.2 1803.4 L1341.2 1803.4 L1416.2 1803.4 L1491.2 1803.4 L1491.2 1803.4 L966.2 1803.4Z" fill="#EE909A"/>
</g>
<text x="906.00" y="1688.00" font-size="25.3" text-anchor="middle" transform="rotate(-90 906.00 1688.00)">Cell fraction</text>
<line x1="962.50" y1="1607.80" x2="966.20" y2="1607.80" stroke="#333" stroke-width="1.0"/>
<text x="960.00" y="1615.10" font-size="25.5" text-anchor="end">1.00</text>
<line x1="962.50" y1="1656.70" x2="966.20" y2="1656.70" stroke="#333" stroke-width="1.0"/>
<text x="960.00" y="1664.00" font-size="25.5" text-anchor="end">0.75</text>
<line x1="962.50" y1="1705.60" x2="966.20" y2="1705.60" stroke="#333" stroke-width="1.0"/>
<text x="960.00" y="1712.90" font-size="25.5" text-anchor="end">0.50</text>
<line x1="962.50" y1="1754.50" x2="966.20" y2="1754.50" stroke="#333" stroke-width="1.0"/>
<text x="960.00" y="1761.80" font-size="25.5" text-anchor="end">0.25</text>
<line x1="962.50" y1="1803.40" x2="966.20" y2="1803.40" stroke="#333" stroke-width="1.0"/>
<text x="960.00" y="1810.70" font-size="25.5" text-anchor="end">0.00</text>
<line x1="966.20" y1="1803.40" x2="966.20" y2="1806.90" stroke="#333" stroke-width="1.0"/>
<text x="978.00" y="1828.70" font-size="25.5" text-anchor="middle">E9</text>
<line x1="1041.20" y1="1803.40" x2="1041.20" y2="1806.90" stroke="#333" stroke-width="1.0"/>
<text x="1046.40" y="1828.70" font-size="25.5" text-anchor="middle">E10</text>
<line x1="1116.20" y1="1803.40" x2="1116.20" y2="1806.90" stroke="#333" stroke-width="1.0"/>
<text x="1121.00" y="1828.70" font-size="25.5" text-anchor="middle">E11</text>
<line x1="1191.20" y1="1803.40" x2="1191.20" y2="1806.90" stroke="#333" stroke-width="1.0"/>
<text x="1197.10" y="1828.70" font-size="25.5" text-anchor="middle">E12</text>
<line x1="1266.20" y1="1803.40" x2="1266.20" y2="1806.90" stroke="#333" stroke-width="1.0"/>
<text x="1271.90" y="1828.70" font-size="25.5" text-anchor="middle">E13</text>
<line x1="1341.20" y1="1803.40" x2="1341.20" y2="1806.90" stroke="#333" stroke-width="1.0"/>
<text x="1346.90" y="1828.70" font-size="25.5" text-anchor="middle">E14</text>
<line x1="1416.20" y1="1803.40" x2="1416.20" y2="1806.90" stroke="#333" stroke-width="1.0"/>
<text x="1421.90" y="1828.70" font-size="25.5" text-anchor="middle">E16</text>
<line x1="1491.20" y1="1803.40" x2="1491.20" y2="1806.90" stroke="#333" stroke-width="1.0"/>
<text x="1483.70" y="1828.70" font-size="25.5" text-anchor="middle">E18</text>
<text x="1852.90" y="1594.50" font-size="25.5" text-anchor="middle">Female: Cell fraction of cell type per time point</text>
<defs><clipPath id="clip3"><rect x="1590.60" y="1602.10" width="525.00" height="196.00"/></clipPath><filter id="blur3" filterUnits="userSpaceOnUse" x="1551" y="1562" width="605" height="276"><feGaussianBlur stdDeviation="2.2"/></filter></defs>
<g clip-path="url(#clip3)">
<path d="M1590.6 1602.1 L1665.6 1602.1 L1740.6 1602.1 L1815.6 1602.1 L1890.6 1602.1 L1965.6 1602.1 L2040.6 1602.1 L2115.6 1602.1 L2115.6 1798.1 L1590.6 1798.1Z" fill="#C42C93"/>
<path d="M1590.6 1609.0 L1665.6 1608.2 L1740.6 1603.3 L1815.6 1603.3 L1890.6 1603.3 L1965.6 1605.2 L2040.6 1604.4 L2115.6 1604.1 L2115.6 1798.1 L1590.6 1798.1Z" fill="#B3C8B2"/>
<path d="M1590.6 1609.9 L1665.6 1609.0 L1740.6 1604.4 L1815.6 1605.2 L1890.6 1606.2 L1965.6 1606.6 L2040.6 1606.0 L2115.6 1605.8 L2115.6 1798.1 L1590.6 1798.1Z" fill="#9790FA"/>
<path d="M1590.6 1609.9 L1665.6 1609.0 L1740.6 1604.4 L1815.6 1605.2 L1890.6 1606.2 L1965.6 1607.4 L2040.6 1606.8 L2115.6 1606.6 L2115.6 1798.1 L1590.6 1798.1Z" fill="#C890F6"/>
<path d="M1590.6 1612.9 L1665.6 1610.9 L1740.6 1604.4 L1815.6 1605.2 L1890.6 1606.2 L1965.6 1608.2 L2040.6 1607.6 L2115.6 1607.6 L2115.6 1798.1 L1590.6 1798.1Z" fill="#E1C7FA"/>
<path d="M1590.6 1626.8 L1665.6 1614.6 L1740.6 1604.4 L1815.6 1605.2 L1890.6 1606.2 L1965.6 1608.2 L2040.6 1607.6 L2115.6 1607.6 L2115.6 1798.1 L1590.6 1798.1Z" fill="#B5BEFB"/>
<path d="M1590.6 1626.8 L1665.6 1614.6 L1740.6 1604.4 L1815.6 1605.2 L1890.6 1606.2 L1965.6 1609.9 L2040.6 1609.0 L2115.6 1609.0 L2115.6 1798.1 L1590.6 1798.1Z" fill="#E26FF7"/>
<path d="M1560.6 1653.1 L1590.6 1653.1 L1665.6 1648.2 L1740.6 1613.4 L1815.6 1610.3 L1890.6 1618.8 L1965.6 1616.6 L2040.6 1612.8 L2115.6 1613.4 L2145.6 1613.4 L2145.6 1613.4 L2115.6 1613.4 L2040.6 1612.8 L1965.6 1616.6 L1890.6 1618.8 L1815.6 1610.3 L1740.6 1613.4 L1665.6 1655.0 L1590.6 1677.1 L1560.6 1677.1Z" fill="#C27DF9" filter="url(#blur3)"/>
<path d="M1590.6 1670.5 L1665.6 1650.9 L1740.6 1613.4 L1815.6 1610.3 L1890.6 1618.8 L1965.6 1616.6 L2040.6 1612.8 L2115.6 1613.4 L2115.6 1798.1 L1590.6 1798.1Z" fill="#A02A70"/>
<path d="M1590.6 1670.9 L1665.6 1651.1 L1740.6 1614.3 L1815.6 1612.3 L1890.6 1619.2 L1965.6 1616.8 L2040.6 1612.8 L2115.6 1613.4 L2115.6 1798.1 L1590.6 1798.1Z" fill="#83BA28"/>
<path d="M1590.6 1670.9 L1665.6 1651.5 L1740.6 1615.4 L1815.6 1613.9 L1890.6 1619.5 L1965.6 1617.2 L2040.6 1612.8 L2115.6 1613.4 L2115.6 1798.1 L1590.6 1798.1Z" fill="#A3E9AC"/>
<path d="M1590.6 1670.9 L1665.6 1651.9 L1740.6 1617.5 L1815.6 1616.6 L1890.6 1620.3 L1965.6 1617.2 L2040.6 1612.8 L2115.6 1613.4 L2115.6 1798.1 L1590.6 1798.1Z" fill="#80FBD3"/>
<path d="M1590.6 1670.9 L1665.6 1652.3 L1740.6 1622.2 L1815.6 1624.1 L1890.6 1621.7 L1965.6 1617.2 L2040.6 1612.8 L2115.6 1613.4 L2115.6 1798.1 L1590.6 1798.1Z" fill="#BCE7F9"/>
<path d="M1590.6 1674.6 L1665.6 1662.5 L1740.6 1631.5 L1815.6 1633.5 L1890.6 1623.5 L1965.6 1617.5 L2040.6 1612.8 L2115.6 1613.4 L2115.6 1798.1 L1590.6 1798.1Z" fill="#6CE9DD"/>
<path d="M1590.6 1674.6 L1665.6 1662.5 L1740.6 1632.1 L1815.6 1634.8 L1890.6 1629.1 L1965.6 1666.6 L2040.6 1635.9 L2115.6 1624.6 L2115.6 1798.1 L1590.6 1798.1Z" fill="#5BB4FB"/>
<filter id="blur3k26" filterUnits="userSpaceOnUse" x="1551" y="1562" width="605" height="276"><feGaussianBlur stdDeviation="1.32"/></filter>
<path d="M1560.6 1675.6 L1590.6 1675.6 L1665.6 1670.3 L1740.6 1678.5 L1815.6 1715.0 L1890.6 1687.6 L1965.6 1713.0 L2040.6 1662.5 L2115.6 1641.9 L2145.6 1641.9 L2145.6 1641.9 L2115.6 1641.9 L2040.6 1662.5 L1965.6 1714.2 L1890.6 1689.5 L1815.6 1721.7 L1740.6 1688.0 L1665.6 1674.2 L1590.6 1676.6 L1560.6 1676.6Z" fill="#7F9DFB" filter="url(#blur3k26)"/>
<path d="M1590.6 1676.0 L1665.6 1671.9 L1740.6 1684.0 L1815.6 1717.7 L1890.6 1688.3 L1965.6 1713.5 L2040.6 1662.5 L2115.6 1641.9 L2115.6 1798.1 L1590.6 1798.1Z" fill="#48D43C"/>
<path d="M1590.6 1676.0 L1665.6 1673.8 L1740.6 1704.7 L1815.6 1751.6 L1890.6 1734.8 L1965.6 1735.6 L2040.6 1666.2 L2115.6 1646.6 L2115.6 1798.1 L1590.6 1798.1Z" fill="#5FD9A5"/>
<path d="M1590.6 1681.3 L1665.6 1682.8 L1740.6 1720.7 L1815.6 1758.1 L1890.6 1736.8 L1965.6 1737.1 L2040.6 1666.2 L2115.6 1646.6 L2115.6 1798.1 L1590.6 1798.1Z" fill="#6CEC70"/>
<path d="M1590.6 1681.3 L1665.6 1682.8 L1740.6 1720.7 L1815.6 1758.1 L1890.6 1737.3 L1965.6 1738.7 L2040.6 1675.6 L2115.6 1660.6 L2115.6 1798.1 L1590.6 1798.1Z" fill="#5DD895"/>
<filter id="blur3k21" filterUnits="userSpaceOnUse" x="1551" y="1562" width="605" height="276"><feGaussianBlur stdDeviation="1.54"/></filter>
<path d="M1560.6 1681.3 L1590.6 1681.3 L1665.6 1682.8 L1740.6 1720.7 L1815.6 1758.1 L1890.6 1738.3 L1965.6 1740.7 L2040.6 1687.8 L2115.6 1670.0 L2145.6 1670.0 L2145.6 1691.5 L2115.6 1691.5 L2040.6 1706.9 L1965.6 1749.2 L1890.6 1741.8 L1815.6 1758.1 L1740.6 1720.7 L1665.6 1682.8 L1590.6 1681.3 L1560.6 1681.3Z" fill="#5FD9B2" filter="url(#blur3k21)"/>
<path d="M1590.6 1681.3 L1665.6 1682.8 L1740.6 1720.7 L1815.6 1758.1 L1890.6 1739.7 L1965.6 1744.6 L2040.6 1702.3 L2115.6 1686.9 L2115.6 1798.1 L1590.6 1798.1Z" fill="#93EB9C"/>
<path d="M1590.6 1681.3 L1665.6 1682.8 L1740.6 1720.7 L1815.6 1758.1 L1890.6 1740.5 L1965.6 1754.4 L2040.6 1734.7 L2115.6 1730.1 L2115.6 1798.1 L1590.6 1798.1Z" fill="#8BFD8B"/>
<path d="M1590.6 1681.3 L1665.6 1682.8 L1740.6 1720.7 L1815.6 1758.1 L1890.6 1740.5 L1965.6 1758.1 L2040.6 1746.6 L2115.6 1743.2 L2115.6 1798.1 L1590.6 1798.1Z" fill="#ABD157"/>
<path d="M1590.6 1681.3 L1665.6 1682.8 L1740.6 1720.7 L1815.6 1758.1 L1890.6 1741.3 L1965.6 1770.1 L2040.6 1771.4 L2115.6 1769.5 L2115.6 1798.1 L1590.6 1798.1Z" fill="#BDEC7C"/>
<path d="M1590.6 1682.8 L1665.6 1687.0 L1740.6 1724.4 L1815.6 1761.4 L1890.6 1745.4 L1965.6 1772.2 L2040.6 1772.2 L2115.6 1769.8 L2115.6 1798.1 L1590.6 1798.1Z" fill="#F569F5"/>
<path d="M1590.6 1682.8 L1665.6 1687.0 L1740.6 1724.4 L1815.6 1761.4 L1890.6 1752.0 L1965.6 1777.1 L2040.6 1775.6 L2115.6 1772.4 L2115.6 1798.1 L1590.6 1798.1Z" fill="#FB43F7"/>
<path d="M1590.6 1686.8 L1665.6 1693.4 L1740.6 1726.6 L1815.6 1762.8 L1890.6 1755.4 L1965.6 1777.9 L2040.6 1776.0 L2115.6 1772.8 L2115.6 1798.1 L1590.6 1798.1Z" fill="#F5398F"/>
<path d="M1590.6 1686.8 L1665.6 1693.4 L1740.6 1726.6 L1815.6 1762.8 L1890.6 1755.4 L1965.6 1780.7 L2040.6 1778.8 L2115.6 1776.9 L2115.6 1798.1 L1590.6 1798.1Z" fill="#EC70F6"/>
<path d="M1590.6 1686.8 L1665.6 1693.4 L1740.6 1730.1 L1815.6 1766.5 L1890.6 1760.9 L1965.6 1787.2 L2040.6 1790.1 L2115.6 1788.3 L2115.6 1798.1 L1590.6 1798.1Z" fill="#EDACAE"/>
<path d="M1590.6 1687.8 L1665.6 1700.1 L1740.6 1744.7 L1815.6 1776.9 L1890.6 1770.3 L1965.6 1792.2 L2040.6 1793.8 L2115.6 1791.0 L2115.6 1798.1 L1590.6 1798.1Z" fill="#F867C5"/>
<path d="M1590.6 1687.8 L1665.6 1700.9 L1740.6 1746.9 L1815.6 1783.8 L1890.6 1777.5 L1965.6 1795.6 L2040.6 1796.5 L2115.6 1793.8 L2115.6 1798.1 L1590.6 1798.1Z" fill="#B31BF7"/>
<path d="M1590.6 1687.8 L1665.6 1700.9 L1740.6 1746.9 L1815.6 1783.8 L1890.6 1777.9 L1965.6 1796.5 L2040.6 1797.3 L2115.6 1797.3 L2115.6 1798.1 L1590.6 1798.1Z" fill="#AEB045"/>
<path d="M1590.6 1688.3 L1665.6 1701.7 L1740.6 1746.9 L1815.6 1783.8 L1890.6 1777.9 L1965.6 1796.5 L2040.6 1797.3 L2115.6 1797.3 L2115.6 1798.1 L1590.6 1798.1Z" fill="#EF7470"/>
<path d="M1590.6 1692.5 L1665.6 1702.8 L1740.6 1748.8 L1815.6 1784.4 L1890.6 1777.9 L1965.6 1796.5 L2040.6 1797.3 L2115.6 1797.3 L2115.6 1798.1 L1590.6 1798.1Z" fill="#F766A5"/>
<path d="M1590.6 1702.8 L1665.6 1714.0 L1740.6 1748.8 L1815.6 1784.4 L1890.6 1777.9 L1965.6 1796.5 L2040.6 1797.3 L2115.6 1797.3 L2115.6 1798.1 L1590.6 1798.1Z" fill="#EBC88F"/>
<filter id="blur3k5" filterUnits="userSpaceOnUse" x="1551" y="1562" width="605" height="276"><feGaussianBlur stdDeviation="1.32"/></filter>
<path d="M1560.6 1714.0 L1590.6 1714.0 L1665.6 1715.8 L1740.6 1748.8 L1815.6 1784.4 L1890.6 1777.9 L1965.6 1796.5 L2040.6 1797.3 L2115.6 1797.3 L2145.6 1797.3 L2145.6 1797.3 L2115.6 1797.3 L2040.6 1797.3 L1965.6 1796.5 L1890.6 1779.9 L1815.6 1787.3 L1740.6 1754.5 L1665.6 1726.4 L1590.6 1723.7 L1560.6 1723.7Z" fill="#ECB96B" filter="url(#blur3k5)"/>
<path d="M1590.6 1719.7 L1665.6 1722.4 L1740.6 1751.1 L1815.6 1785.6 L1890.6 1778.7 L1965.6 1796.5 L2040.6 1797.3 L2115.6 1797.3 L2115.6 1798.1 L1590.6 1798.1Z" fill="#EBCF43"/>
<path d="M1590.6 1728.1 L1665.6 1724.4 L1740.6 1752.5 L1815.6 1786.3 L1890.6 1779.7 L1965.6 1796.5 L2040.6 1797.3 L2115.6 1797.3 L2115.6 1798.1 L1590.6 1798.1Z" fill="#DE8234"/>
<path d="M1560.6 1741.3 L1590.6 1741.3 L1665.6 1758.1 L1740.6 1776.9 L1815.6 1792.2 L1890.6 1790.3 L1965.6 1797.3 L2040.6 1797.7 L2115.6 1797.7 L2145.6 1797.7 L2145.6 1798.7 L2115.6 1798.7 L2040.6 1798.7 L1965.6 1799.3 L1890.6 1804.7 L1815.6 1804.7 L1740.6 1804.7 L1665.6 1802.3 L1590.6 1773.1 L1560.6 1773.1Z" fill="#F18024" filter="url(#blur3)"/>
<path d="M1590.6 1766.5 L1665.6 1795.7 L1740.6 1798.1 L1815.6 1798.1 L1890.6 1798.1 L1965.6 1798.1 L2040.6 1798.1 L2115.6 1798.1 L2115.6 1798.1 L1590.6 1798.1Z" fill="#EE909A"/>
</g>
<text x="1530.40" y="1683.80" font-size="25.3" text-anchor="middle" transform="rotate(-90 1530.40 1683.80)">Cell fraction</text>
<line x1="1587.00" y1="1602.10" x2="1590.60" y2="1602.10" stroke="#333" stroke-width="1.0"/>
<text x="1585.30" y="1610.30" font-size="25.5" text-anchor="end">1.00</text>
<line x1="1587.00" y1="1651.10" x2="1590.60" y2="1651.10" stroke="#333" stroke-width="1.0"/>
<text x="1585.30" y="1659.30" font-size="25.5" text-anchor="end">0.75</text>
<line x1="1587.00" y1="1700.10" x2="1590.60" y2="1700.10" stroke="#333" stroke-width="1.0"/>
<text x="1585.30" y="1708.30" font-size="25.5" text-anchor="end">0.50</text>
<line x1="1587.00" y1="1749.10" x2="1590.60" y2="1749.10" stroke="#333" stroke-width="1.0"/>
<text x="1585.30" y="1757.30" font-size="25.5" text-anchor="end">0.25</text>
<line x1="1587.00" y1="1798.10" x2="1590.60" y2="1798.10" stroke="#333" stroke-width="1.0"/>
<text x="1585.30" y="1806.30" font-size="25.5" text-anchor="end">0.00</text>
<line x1="1590.60" y1="1798.10" x2="1590.60" y2="1801.60" stroke="#333" stroke-width="1.0"/>
<text x="1602.50" y="1823.40" font-size="25.5" text-anchor="middle">E9</text>
<line x1="1665.60" y1="1798.10" x2="1665.60" y2="1801.60" stroke="#333" stroke-width="1.0"/>
<text x="1671.00" y="1823.40" font-size="25.5" text-anchor="middle">E10</text>
<line x1="1740.60" y1="1798.10" x2="1740.60" y2="1801.60" stroke="#333" stroke-width="1.0"/>
<text x="1745.60" y="1823.40" font-size="25.5" text-anchor="middle">E11</text>
<line x1="1815.60" y1="1798.10" x2="1815.60" y2="1801.60" stroke="#333" stroke-width="1.0"/>
<text x="1821.70" y="1823.40" font-size="25.5" text-anchor="middle">E12</text>
<line x1="1890.60" y1="1798.10" x2="1890.60" y2="1801.60" stroke="#333" stroke-width="1.0"/>
<text x="1896.50" y="1823.40" font-size="25.5" text-anchor="middle">E13</text>
<line x1="1965.60" y1="1798.10" x2="1965.60" y2="1801.60" stroke="#333" stroke-width="1.0"/>
<text x="1971.50" y="1823.40" font-size="25.5" text-anchor="middle">E14</text>
<line x1="2040.60" y1="1798.10" x2="2040.60" y2="1801.60" stroke="#333" stroke-width="1.0"/>
<text x="2046.50" y="1823.40" font-size="25.5" text-anchor="middle">E16</text>
<line x1="2115.60" y1="1798.10" x2="2115.60" y2="1801.60" stroke="#333" stroke-width="1.0"/>
<text x="2108.30" y="1823.40" font-size="25.5" text-anchor="middle">E18</text>
<rect x="969.30" y="1862.40" width="48.30" height="47.70" fill="#EE909A"/>
<text x="1035.20" y="1896.40" font-size="24">1 NECs</text>
<rect x="969.30" y="1913.33" width="48.30" height="47.70" fill="#F18024"/>
<text x="1035.20" y="1947.33" font-size="24">2 NSCs</text>
<rect x="969.30" y="1964.26" width="48.30" height="47.70" fill="#DE8234"/>
<text x="1035.20" y="1998.26" font-size="24">3 Proliferating NSCs</text>
<rect x="969.30" y="2015.19" width="48.30" height="47.70" fill="#EBCF43"/>
<text x="1035.20" y="2049.19" font-size="24">4 IsO</text>
<rect x="969.30" y="2066.12" width="48.30" height="47.70" fill="#ECB96B"/>
<text x="1035.20" y="2100.12" font-size="24">5 Floor plate progenitors</text>
<rect x="969.30" y="2117.05" width="48.30" height="47.70" fill="#EBC88F"/>
<text x="1035.20" y="2151.05" font-size="24">6 Neural progenitors</text>
<rect x="969.30" y="2167.98" width="48.30" height="47.70" fill="#F766A5"/>
<text x="1035.20" y="2201.98" font-size="24">7 Pre-NC/RP cells</text>
<rect x="969.30" y="2218.91" width="48.30" height="47.70" fill="#EF7470"/>
<text x="1035.20" y="2252.91" font-size="24">8 NC progenitors</text>
<rect x="969.30" y="2269.84" width="48.30" height="47.70" fill="#AEB045"/>
<text x="1035.20" y="2303.84" font-size="24">9 Proliferating NC progenitors</text>
<rect x="969.30" y="2320.77" width="48.30" height="47.70" fill="#B31BF7"/>
<text x="1035.20" y="2354.77" font-size="24">10 Astrocytes/OPCs</text>
<rect x="969.30" y="2371.70" width="48.30" height="47.70" fill="#F867C5"/>
<text x="1035.20" y="2405.70" font-size="24">11 VZ progenitors</text>
<rect x="969.30" y="2422.63" width="48.30" height="47.70" fill="#EDACAE"/>
<text x="1035.20" y="2456.63" font-size="24">12 Gliogenic progenitors</text>
<rect x="969.30" y="2473.56" width="48.30" height="47.70" fill="#EC70F6"/>
<text x="1035.20" y="2507.56" font-size="24">13 Bergmann glia</text>
<rect x="969.30" y="2524.49" width="48.30" height="47.70" fill="#F5398F"/>
<text x="1035.20" y="2558.49" font-size="24">14 Astrocytes</text>
<rect x="1363.50" y="1862.40" width="48.30" height="47.70" fill="#FB43F7"/>
<text x="1429.60" y="1896.40" font-size="24">15 RPSCs</text>
<rect x="1363.50" y="1913.33" width="48.30" height="47.70" fill="#F569F5"/>
<text x="1429.60" y="1947.33" font-size="24">16 Choroid plexus</text>
<rect x="1363.50" y="1964.26" width="48.30" height="47.70" fill="#BDEC7C"/>
<text x="1429.60" y="1998.26" font-size="24">17 RL progenitors</text>
<rect x="1363.50" y="2015.19" width="48.30" height="47.70" fill="#ABD157"/>
<text x="1429.60" y="2049.19" font-size="24">18 GC progenitors</text>
<rect x="1363.50" y="2066.12" width="48.30" height="47.70" fill="#8BFD8B"/>
<text x="1429.60" y="2100.12" font-size="24">19 Proliferating GC progenitors</text>
<rect x="1363.50" y="2117.05" width="48.30" height="47.70" fill="#93EB9C"/>
<text x="1429.60" y="2151.05" font-size="24">20 GCs</text>
<rect x="1363.50" y="2167.98" width="48.30" height="47.70" fill="#5FD9B2"/>
<text x="1429.60" y="2201.98" font-size="24">21 UBC progenitors</text>
<rect x="1363.50" y="2218.91" width="48.30" height="47.70" fill="#5DD895"/>
<text x="1429.60" y="2252.91" font-size="24">22 Proliferating UBC progenitors</text>
<rect x="1363.50" y="2269.84" width="48.30" height="47.70" fill="#6CEC70"/>
<text x="1429.60" y="2303.84" font-size="24">23 UBCs</text>
<rect x="1363.50" y="2320.77" width="48.30" height="47.70" fill="#5FD9A5"/>
<text x="1429.60" y="2354.77" font-size="24">24 NTZ neurons</text>
<rect x="1363.50" y="2371.70" width="48.30" height="47.70" fill="#48D43C"/>
<text x="1429.60" y="2405.70" font-size="24">25 eDCN</text>
<rect x="1363.50" y="2422.63" width="48.30" height="47.70" fill="#7F9DFB"/>
<text x="1429.60" y="2456.63" font-size="24">26 GABAergic IN progenitors</text>
<rect x="1363.50" y="2473.56" width="48.30" height="47.70" fill="#5BB4FB"/>
<text x="1429.60" y="2507.56" font-size="24">27 GABAergic INs</text>
<rect x="1363.50" y="2524.49" width="48.30" height="47.70" fill="#6CE9DD"/>
<text x="1429.60" y="2558.49" font-size="24">28 Purkinje cells</text>
<rect x="1787.00" y="1862.40" width="48.30" height="47.70" fill="#BCE7F9"/>
<text x="1853.00" y="1896.40" font-size="24">29 Motor neurons</text>
<rect x="1787.00" y="1913.33" width="48.30" height="47.70" fill="#80FBD3"/>
<text x="1853.00" y="1947.33" font-size="24">30 V2a INs</text>
<rect x="1787.00" y="1964.26" width="48.30" height="47.70" fill="#A3E9AC"/>
<text x="1853.00" y="1998.26" font-size="24">31 V2b INs</text>
<rect x="1787.00" y="2015.19" width="48.30" height="47.70" fill="#83BA28"/>
<text x="1853.00" y="2049.19" font-size="24">32 Proliferating V2b INs</text>
<rect x="1787.00" y="2066.12" width="48.30" height="47.70" fill="#A02A70"/>
<text x="1853.00" y="2100.12" font-size="24">33 Serotonergic neurons</text>
<rect x="1787.00" y="2117.05" width="48.30" height="47.70" fill="#C27DF9"/>
<text x="1853.00" y="2151.05" font-size="24">34 Mesenchyme</text>
<rect x="1787.00" y="2167.98" width="48.30" height="47.70" fill="#E26FF7"/>
<text x="1853.00" y="2201.98" font-size="24">35 Meninges</text>
<rect x="1787.00" y="2218.91" width="48.30" height="47.70" fill="#B5BEFB"/>
<text x="1853.00" y="2252.91" font-size="24">36 Pericytes</text>
<rect x="1787.00" y="2269.84" width="48.30" height="47.70" fill="#E1C7FA"/>
<text x="1853.00" y="2303.84" font-size="24">37 Epithelial cells</text>
<rect x="1787.00" y="2320.77" width="48.30" height="47.70" fill="#C890F6"/>
<text x="1853.00" y="2354.77" font-size="24">38 Endothelial cells</text>
<rect x="1787.00" y="2371.70" width="48.30" height="47.70" fill="#9790FA"/>
<text x="1853.00" y="2405.70" font-size="24">39 Schwann cells</text>
<rect x="1787.00" y="2422.63" width="48.30" height="47.70" fill="#B3C8B2"/>
<text x="1853.00" y="2456.63" font-size="24">40 Immune cells</text>
<rect x="1787.00" y="2473.56" width="48.30" height="47.70" fill="#C42C93"/>
<text x="1853.00" y="2507.56" font-size="24">41 Erythrocytes</text>
<path d="M2140 2343h3m3 0h3m4 0h9" stroke="#7fe3ee" stroke-width="1.2" fill="none"/>
<path d="M2154 2495h8" stroke="#7fe3ee" stroke-width="1.4" fill="none"/>
<path d="M2098 2548h5m16 0h4m5 0h4m5 0h4" stroke="#b7f0f2" stroke-width="1" fill="none"/>
<path d="M2147 2548h3m3 -1h9" stroke="#1d1fbf" stroke-width="1.6" fill="none"/>
</g>
</svg>
</body>
</html>
